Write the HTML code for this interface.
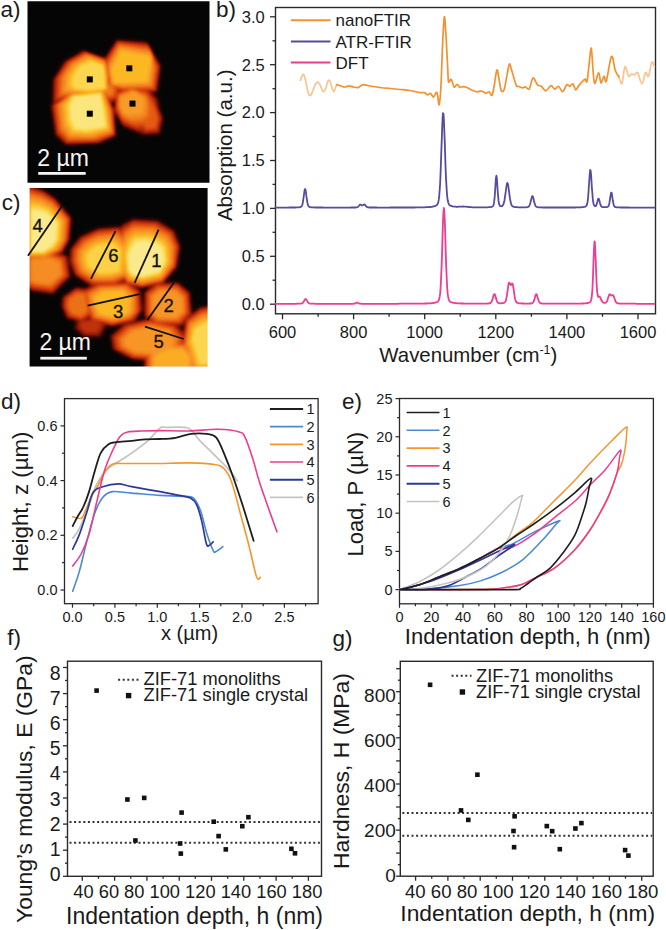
<!DOCTYPE html><html><head><meta charset="utf-8"><style>html,body{margin:0;padding:0;background:#fff;width:666px;height:930px;overflow:hidden;position:relative}</style></head><body><svg width="666" height="930" viewBox="0 0 666 930" style="position:absolute;left:0;top:0">
<defs>
<filter id="b3" x="-30%" y="-30%" width="160%" height="160%"><feGaussianBlur stdDeviation="2.2"/></filter>
<filter id="b2" x="-30%" y="-30%" width="160%" height="160%"><feGaussianBlur stdDeviation="2.8"/></filter>
</defs>
<g font-family='"Liberation Sans", sans-serif' fill="#1a1a1a">
<filter id="afm" x="0" y="0" width="100%" height="100%" color-interpolation-filters="sRGB"><feGaussianBlur stdDeviation="1.4"/><feComponentTransfer><feFuncR type="table" tableValues="0.020 0.124 0.227 0.384 0.541 0.660 0.754 0.847 0.878 0.910 0.941 0.954 0.967 0.976 0.983 0.988 0.988 0.988 0.987 0.986 0.984"/><feFuncG type="table" tableValues="0.020 0.025 0.031 0.064 0.097 0.144 0.202 0.259 0.332 0.405 0.478 0.524 0.570 0.622 0.677 0.732 0.784 0.837 0.874 0.908 0.941"/><feFuncB type="table" tableValues="0.020 0.018 0.016 0.019 0.022 0.033 0.048 0.063 0.073 0.084 0.094 0.124 0.153 0.155 0.139 0.141 0.220 0.298 0.403 0.515 0.627"/></feComponentTransfer></filter>
<clipPath id="ca"><rect x="27.5" y="1.3" width="182" height="181.5"/></clipPath>
<g clip-path="url(#ca)"><g filter="url(#afm)"><rect x="22.5" y="-3.7" width="192" height="191.5" fill="#000"/>
<g style="mix-blend-mode:lighten">
<polygon points="51.0,80.1 63.4,60.6 82.9,49.2 106.0,57.1 109.9,71.5 109.8,92.9 88.8,96.8 68.9,98.7 50.5,105.3" fill="#0a0a0a" />
<polygon points="52.7,79.6 64.6,61.0 83.5,50.0 105.8,57.7 109.6,71.8 109.5,92.6 88.7,96.4 69.4,98.0 52.1,103.6" fill="#272727" />
<polygon points="54.4,79.2 65.8,61.4 84.2,50.9 105.7,58.4 109.2,72.1 109.2,92.2 88.7,95.9 69.8,97.2 53.7,101.9" fill="#3b3b3b" />
<polygon points="56.0,78.8 67.1,61.8 84.8,51.7 105.5,59.0 108.8,72.5 108.9,91.9 88.7,95.4 70.2,96.5 55.3,100.3" fill="#4c4c4c" />
<polygon points="57.7,78.4 68.3,62.3 85.4,52.6 105.3,59.7 108.4,72.8 108.5,91.6 88.6,95.0 70.6,95.8 56.9,98.6" fill="#5c5c5c" />
<polygon points="59.4,78.0 69.5,62.7 86.0,53.4 105.2,60.3 108.0,73.1 108.2,91.3 88.6,94.5 71.0,95.0 58.5,96.9" fill="#6b6b6b" />
<polygon points="61.1,77.5 70.7,63.1 86.6,54.3 105.0,61.0 107.7,73.4 107.9,91.0 88.5,94.0 71.4,94.3 60.1,95.2" fill="#797979" />
<polygon points="62.8,77.1 71.9,63.6 87.3,55.1 104.8,61.6 107.3,73.8 107.6,90.6 88.5,93.6 71.8,93.5 61.7,93.5" fill="#878787" />
<polygon points="64.4,76.7 73.1,64.0 87.9,56.0 104.7,62.3 106.9,74.1 107.3,90.3 88.5,93.1 72.2,92.8 63.2,91.8" fill="#949494" />
<polygon points="66.1,76.3 74.3,64.4 88.5,56.8 104.5,62.9 106.5,74.4 107.0,90.0 88.4,92.6 72.7,92.1 64.8,90.2" fill="#a0a0a0" />
<polygon points="67.8,75.8 75.6,64.8 89.1,57.7 104.4,63.6 106.2,74.7 106.7,89.7 88.4,92.2 73.1,91.3 66.4,88.5" fill="#adadad" />
<polygon points="69.5,75.4 76.8,65.3 89.8,58.5 104.2,64.2 105.8,75.1 106.3,89.4 88.3,91.7 73.5,90.6 68.0,86.8" fill="#b9b9b9" />
<polygon points="71.2,75.0 78.0,65.7 90.4,59.3 104.0,64.9 105.4,75.4 106.0,89.0 88.3,91.2 73.9,89.9 69.6,85.1" fill="#c4c4c4" />
<polygon points="72.9,74.6 79.2,66.1 91.0,60.2 103.9,65.5 105.0,75.7 105.7,88.7 88.3,90.8 74.3,89.1 71.2,83.4" fill="#d0d0d0" />
<polygon points="74.5,74.1 80.4,66.5 91.6,61.0 103.7,66.2 104.6,76.0 105.4,88.4 88.2,90.3 74.7,88.4 72.8,81.7" fill="#dbdbdb" />
</g>
<g style="mix-blend-mode:lighten">
<polygon points="104.5,55.8 116.2,38.6 146.9,40.5 162.3,65.4 158.5,93.4 121.3,93.9 106.5,87.2" fill="#0a0a0a" />
<polygon points="104.9,56.9 116.6,39.5 147.3,41.7 161.3,65.8 157.6,92.5 121.6,93.1 107.1,86.9" fill="#232323" />
<polygon points="105.4,57.9 116.9,40.3 147.6,42.9 160.4,66.1 156.8,91.6 121.9,92.2 107.7,86.6" fill="#343434" />
<polygon points="105.9,59.0 117.3,41.2 148.0,44.1 159.5,66.4 156.0,90.8 122.2,91.4 108.2,86.3" fill="#424242" />
<polygon points="106.3,60.1 117.6,42.0 148.4,45.3 158.5,66.8 155.2,89.9 122.5,90.6 108.8,86.0" fill="#505050" />
<polygon points="106.8,61.2 118.0,42.8 148.7,46.5 157.6,67.1 154.3,89.0 122.7,89.8 109.3,85.7" fill="#5d5d5d" />
<polygon points="107.3,62.3 118.4,43.7 149.1,47.7 156.6,67.4 153.5,88.2 123.0,89.0 109.9,85.4" fill="#696969" />
<polygon points="107.7,63.4 118.7,44.5 149.5,48.9 155.7,67.7 152.7,87.3 123.3,88.1 110.5,85.1" fill="#747474" />
<polygon points="108.2,64.5 119.1,45.4 149.8,50.1 154.7,68.1 151.8,86.4 123.6,87.3 111.0,84.8" fill="#808080" />
<polygon points="108.7,65.6 119.4,46.2 150.2,51.3 153.8,68.4 151.0,85.6 123.9,86.5 111.6,84.5" fill="#8a8a8a" />
<polygon points="109.1,66.6 119.8,47.1 150.6,52.5 152.8,68.7 150.2,84.7 124.2,85.7 112.1,84.2" fill="#959595" />
<polygon points="109.6,67.7 120.2,47.9 150.9,53.7 151.9,69.1 149.4,83.8 124.5,84.9 112.7,83.9" fill="#9f9f9f" />
<polygon points="110.0,68.8 120.5,48.8 151.3,54.9 151.0,69.4 148.5,83.0 124.7,84.0 113.3,83.6" fill="#a9a9a9" />
<polygon points="110.5,69.9 120.9,49.6 151.7,56.1 150.0,69.7 147.7,82.1 125.0,83.2 113.8,83.3" fill="#b3b3b3" />
<polygon points="111.0,71.0 121.2,50.5 152.0,57.3 149.1,70.0 146.9,81.2 125.3,82.4 114.4,83.0" fill="#bdbdbd" />
</g>
<g style="mix-blend-mode:lighten">
<polygon points="97.8,77.6 112.7,74.9 123.1,87.4 120.1,102.4 105.2,105.1 95.9,92.6" fill="#0a0a0a" />
<polygon points="98.4,78.3 112.5,75.7 122.4,87.6 119.6,101.8 105.3,104.4 96.5,92.5" fill="#1a1a1a" />
<polygon points="99.0,79.0 112.3,76.5 121.7,87.7 119.0,101.2 105.5,103.6 97.2,92.4" fill="#252525" />
<polygon points="99.5,79.6 112.1,77.3 121.0,87.8 118.4,100.6 105.7,102.9 97.8,92.2" fill="#2f2f2f" />
<polygon points="100.1,80.3 111.9,78.1 120.2,87.9 117.8,100.0 105.8,102.2 98.5,92.1" fill="#383838" />
<polygon points="100.7,80.9 111.7,78.9 119.5,88.1 117.3,99.4 106.0,101.4 99.1,92.0" fill="#404040" />
<polygon points="101.2,81.6 111.5,79.7 118.8,88.2 116.7,98.8 106.1,100.7 99.8,91.9" fill="#484848" />
<polygon points="101.8,82.3 111.3,80.5 118.1,88.3 116.1,98.2 106.3,100.0 100.4,91.7" fill="#505050" />
<polygon points="102.4,82.9 111.0,81.3 117.3,88.5 115.6,97.6 106.4,99.2 101.1,91.6" fill="#575757" />
<polygon points="102.9,83.6 110.8,82.1 116.6,88.6 115.0,97.0 106.6,98.5 101.7,91.5" fill="#5e5e5e" />
<polygon points="103.5,84.2 110.6,82.9 115.9,88.7 114.4,96.4 106.7,97.8 102.4,91.4" fill="#656565" />
<polygon points="104.1,84.9 110.4,83.7 115.1,88.9 113.9,95.9 106.9,97.1 103.0,91.2" fill="#6c6c6c" />
<polygon points="104.6,85.5 110.2,84.5 114.4,89.0 113.3,95.3 107.1,96.3 103.7,91.1" fill="#737373" />
<polygon points="105.2,86.2 110.0,85.3 113.7,89.1 112.7,94.7 107.2,95.6 104.3,91.0" fill="#797979" />
<polygon points="105.8,86.9 109.8,86.1 113.0,89.3 112.2,94.1 107.4,94.9 105.0,90.9" fill="#808080" />
</g>
<g style="mix-blend-mode:lighten">
<polygon points="139.3,98.7 155.4,95.6 164.5,118.1 160.8,135.3 142.5,136.4 135.5,118.1" fill="#0a0a0a" />
<polygon points="139.7,99.2 155.2,96.2 164.0,118.1 160.4,134.7 142.7,135.8 136.0,118.1" fill="#181818" />
<polygon points="140.2,99.7 155.0,96.9 163.4,118.1 160.0,134.1 143.0,135.2 136.6,118.1" fill="#212121" />
<polygon points="140.7,100.3 154.9,97.6 162.9,118.1 159.5,133.5 143.2,134.6 137.1,118.1" fill="#292929" />
<polygon points="141.2,100.8 154.7,98.3 162.4,118.1 159.1,132.9 143.5,134.0 137.6,118.1" fill="#303030" />
<polygon points="141.7,101.3 154.5,98.9 161.8,118.1 158.7,132.3 143.7,133.4 138.2,118.1" fill="#373737" />
<polygon points="142.1,101.8 154.4,99.6 161.3,118.1 158.3,131.7 144.0,132.8 138.7,118.1" fill="#3e3e3e" />
<polygon points="142.6,102.3 154.2,100.3 160.7,118.1 157.9,131.1 144.2,132.2 139.3,118.1" fill="#444444" />
<polygon points="143.1,102.9 154.0,101.0 160.2,118.0 157.5,130.5 144.5,131.6 139.8,118.1" fill="#4a4a4a" />
<polygon points="143.6,103.4 153.9,101.6 159.7,118.0 157.1,130.0 144.7,131.0 140.3,118.0" fill="#505050" />
<polygon points="144.1,103.9 153.7,102.3 159.1,118.0 156.7,129.4 145.0,130.4 140.9,118.0" fill="#555555" />
<polygon points="144.6,104.4 153.5,103.0 158.6,118.0 156.2,128.8 145.2,129.8 141.4,118.0" fill="#5b5b5b" />
<polygon points="145.0,105.0 153.3,103.7 158.1,118.0 155.8,128.2 145.5,129.2 141.9,118.0" fill="#616161" />
<polygon points="145.5,105.5 153.2,104.3 157.5,118.0 155.4,127.6 145.7,128.6 142.5,118.0" fill="#666666" />
<polygon points="146.0,106.0 153.0,105.0 157.0,118.0 155.0,127.0 146.0,128.0 143.0,118.0" fill="#6b6b6b" />
</g>
<g style="mix-blend-mode:lighten">
<polygon points="114.4,91.8 127.0,85.5 147.7,86.1 159.7,98.0 162.2,118.6 159.8,133.8 142.6,136.1 123.0,128.4 113.3,112.7" fill="#0a0a0a" />
<polygon points="114.9,92.2 127.6,85.9 147.5,87.1 158.6,98.6 160.7,118.2 158.0,132.4 141.3,134.5 122.9,127.1 113.8,112.0" fill="#1f1f1f" />
<polygon points="115.4,92.5 128.2,86.4 147.3,88.1 157.4,99.3 159.3,117.9 156.3,130.9 140.0,132.9 122.8,125.7 114.4,111.3" fill="#2e2e2e" />
<polygon points="115.9,92.9 128.7,86.8 147.2,89.1 156.2,99.9 157.8,117.6 154.5,129.5 138.7,131.3 122.7,124.4 114.9,110.7" fill="#3a3a3a" />
<polygon points="116.4,93.2 129.3,87.2 147.0,90.1 155.1,100.5 156.4,117.2 152.7,128.1 137.5,129.7 122.6,123.1 115.4,110.0" fill="#464646" />
<polygon points="116.9,93.6 129.9,87.7 146.8,91.1 153.9,101.2 154.9,116.9 150.9,126.7 136.2,128.1 122.5,121.8 115.9,109.3" fill="#515151" />
<polygon points="117.3,93.9 130.4,88.1 146.6,92.1 152.7,101.8 153.4,116.6 149.1,125.3 134.9,126.6 122.4,120.4 116.4,108.6" fill="#5b5b5b" />
<polygon points="117.8,94.3 131.0,88.6 146.4,93.2 151.6,102.5 152.0,116.2 147.3,123.8 133.6,125.0 122.3,119.1 117.0,107.9" fill="#656565" />
<polygon points="118.3,94.6 131.6,89.0 146.3,94.2 150.4,103.1 150.5,115.9 145.6,122.4 132.4,123.4 122.2,117.8 117.5,107.2" fill="#6f6f6f" />
<polygon points="118.8,95.0 132.1,89.4 146.1,95.2 149.2,103.7 149.1,115.5 143.8,121.0 131.1,121.8 122.1,116.4 118.0,106.5" fill="#787878" />
<polygon points="119.3,95.3 132.7,89.9 145.9,96.2 148.1,104.4 147.6,115.2 142.0,119.6 129.8,120.2 122.0,115.1 118.5,105.9" fill="#818181" />
<polygon points="119.8,95.7 133.3,90.3 145.7,97.2 146.9,105.0 146.2,114.9 140.2,118.1 128.5,118.6 121.9,113.8 119.0,105.2" fill="#8a8a8a" />
<polygon points="120.3,96.1 133.8,90.8 145.6,98.2 145.7,105.7 144.7,114.5 138.4,116.7 127.2,117.0 121.8,112.4 119.6,104.5" fill="#929292" />
<polygon points="120.8,96.4 134.4,91.2 145.4,99.2 144.6,106.3 143.2,114.2 136.6,115.3 126.0,115.4 121.7,111.1 120.1,103.8" fill="#9b9b9b" />
<polygon points="121.3,96.8 134.9,91.6 145.2,100.2 143.4,106.9 141.8,113.9 134.9,113.9 124.7,113.9 121.6,109.8 120.6,103.1" fill="#a3a3a3" />
</g>
<g style="mix-blend-mode:lighten">
<polygon points="49.1,105.2 71.1,90.9 105.6,87.3 115.4,110.1 117.1,136.8 100.0,144.8 65.4,146.5 54.1,136.9" fill="#0a0a0a" />
<polygon points="50.7,105.2 71.3,91.3 105.2,87.8 114.5,110.1 116.2,136.1 98.9,143.7 66.1,145.1 55.3,135.5" fill="#2a2a2a" />
<polygon points="52.3,105.1 71.4,91.8 104.8,88.2 113.6,110.1 115.4,135.3 97.8,142.6 66.7,143.8 56.5,134.1" fill="#404040" />
<polygon points="53.8,105.1 71.5,92.2 104.4,88.7 112.8,110.1 114.5,134.6 96.7,141.6 67.4,142.4 57.7,132.8" fill="#525252" />
<polygon points="55.4,105.0 71.6,92.7 104.0,89.1 111.9,110.1 113.7,133.8 95.6,140.5 68.0,141.0 58.9,131.4" fill="#646464" />
<polygon points="56.9,105.0 71.7,93.1 103.6,89.6 111.0,110.1 112.8,133.0 94.5,139.4 68.7,139.6 60.1,130.0" fill="#747474" />
<polygon points="58.5,104.9 71.8,93.6 103.2,90.1 110.1,110.1 112.0,132.3 93.4,138.3 69.3,138.3 61.3,128.6" fill="#848484" />
<polygon points="60.1,104.9 71.9,94.0 102.9,90.5 109.2,110.1 111.2,131.5 92.3,137.2 70.0,136.9 62.5,127.3" fill="#939393" />
<polygon points="61.6,104.8 72.0,94.5 102.5,91.0 108.4,110.1 110.3,130.8 91.2,136.1 70.6,135.5 63.7,125.9" fill="#a1a1a1" />
<polygon points="63.2,104.7 72.1,94.9 102.1,91.4 107.5,110.1 109.5,130.0 90.1,135.1 71.3,134.1 64.9,124.5" fill="#afafaf" />
<polygon points="64.7,104.7 72.2,95.4 101.7,91.9 106.6,110.1 108.6,129.3 89.0,134.0 72.0,132.8 66.1,123.2" fill="#bdbdbd" />
<polygon points="66.3,104.6 72.3,95.8 101.3,92.4 105.7,110.2 107.8,128.5 87.9,132.9 72.6,131.4 67.3,121.8" fill="#cacaca" />
<polygon points="67.8,104.6 72.4,96.3 100.9,92.8 104.8,110.2 106.9,127.7 86.8,131.8 73.3,130.0 68.5,120.4" fill="#d7d7d7" />
<polygon points="69.4,104.5 72.6,96.7 100.5,93.3 103.9,110.2 106.1,127.0 85.7,130.7 73.9,128.6 69.7,119.0" fill="#e3e3e3" />
<polygon points="71.0,104.5 72.7,97.1 100.1,93.7 103.1,110.2 105.2,126.2 84.6,129.6 74.6,127.3 71.0,117.7" fill="#f0f0f0" />
</g>
</g></g>
<rect x="86.8" y="76.4" width="6" height="6" fill="#000"/>
<rect x="126.3" y="65.3" width="6" height="6" fill="#000"/>
<rect x="86.8" y="110.7" width="6" height="6" fill="#000"/>
<rect x="129.5" y="100.6" width="6" height="6" fill="#000"/>
<rect x="38.2" y="172" width="47.5" height="2.8" fill="#f4f4f4"/>
<text x="37.3" y="166.3" font-size="23" text-anchor="start" fill="#f4f4f4">2 µm</text>
<clipPath id="cc"><rect x="29.6" y="188" width="178" height="178.5"/></clipPath>
<g clip-path="url(#cc)"><g filter="url(#afm)"><rect x="24.6" y="183" width="188" height="188.5" fill="#000"/>
<g style="mix-blend-mode:lighten">
<polygon points="61.3,295.9 76.0,286.0 89.2,287.4 93.7,317.1 82.7,323.9 65.9,319.7 60.0,306.1" fill="#0a0a0a" />
<polygon points="61.9,296.2 76.1,286.6 88.9,288.0 93.2,316.7 82.5,323.3 66.3,319.1 60.6,306.1" fill="#1a1a1a" />
<polygon points="62.5,296.4 76.2,287.2 88.5,288.5 92.7,316.3 82.4,322.7 66.7,318.6 61.3,306.1" fill="#242424" />
<polygon points="63.1,296.7 76.2,287.8 88.1,289.1 92.2,315.9 82.2,322.1 67.1,318.1 61.9,306.1" fill="#2e2e2e" />
<polygon points="63.7,297.0 76.3,288.3 87.8,289.6 91.7,315.4 82.1,321.6 67.5,317.5 62.5,306.1" fill="#363636" />
<polygon points="64.3,297.2 76.4,288.9 87.4,290.2 91.2,315.0 81.9,321.0 67.9,317.0 63.2,306.0" fill="#3e3e3e" />
<polygon points="65.0,297.5 76.4,289.5 87.1,290.7 90.8,314.6 81.8,320.4 68.3,316.5 63.8,306.0" fill="#464646" />
<polygon points="65.6,297.8 76.5,290.1 86.7,291.2 90.3,314.2 81.6,319.8 68.7,315.9 64.5,306.0" fill="#4d4d4d" />
<polygon points="66.2,298.0 76.6,290.7 86.3,291.8 89.8,313.8 81.5,319.3 69.1,315.4 65.1,306.0" fill="#545454" />
<polygon points="66.8,298.3 76.7,291.3 86.0,292.3 89.3,313.4 81.3,318.7 69.6,314.9 65.7,306.0" fill="#5b5b5b" />
<polygon points="67.4,298.5 76.7,291.8 85.6,292.9 88.8,312.9 81.2,318.1 70.0,314.3 66.4,306.0" fill="#616161" />
<polygon points="68.0,298.8 76.8,292.4 85.3,293.4 88.3,312.5 81.0,317.5 70.4,313.8 67.0,305.9" fill="#686868" />
<polygon points="68.6,299.1 76.9,293.0 84.9,294.0 87.9,312.1 80.9,316.9 70.8,313.3 67.6,305.9" fill="#6e6e6e" />
<polygon points="69.2,299.3 76.9,293.6 84.6,294.5 87.4,311.7 80.7,316.4 71.2,312.7 68.3,305.9" fill="#747474" />
<polygon points="69.8,299.6 77.0,294.2 84.2,295.1 86.9,311.3 80.6,315.8 71.6,312.2 68.9,305.9" fill="#7a7a7a" />
</g>
<g style="mix-blend-mode:lighten">
<polygon points="74.2,319.1 97.0,314.3 109.0,324.7 101.5,338.4 83.0,338.7 73.0,329.2" fill="#0a0a0a" />
<polygon points="74.8,319.3 96.8,314.7 108.4,324.8 101.1,337.9 83.2,338.2 73.6,329.1" fill="#131313" />
<polygon points="75.3,319.5 96.6,315.2 107.8,324.8 100.7,337.4 83.5,337.7 74.2,328.9" fill="#1a1a1a" />
<polygon points="75.9,319.8 96.4,315.6 107.2,324.8 100.4,336.9 83.7,337.2 74.7,328.7" fill="#1f1f1f" />
<polygon points="76.4,320.0 96.3,316.1 106.6,324.8 100.0,336.4 84.0,336.6 75.3,328.6" fill="#242424" />
<polygon points="77.0,320.3 96.1,316.5 106.1,324.9 99.6,335.9 84.2,336.1 75.9,328.4" fill="#292929" />
<polygon points="77.5,320.5 95.9,317.0 105.5,324.9 99.3,335.4 84.5,335.6 76.4,328.2" fill="#2d2d2d" />
<polygon points="78.1,320.7 95.7,317.4 104.9,324.9 98.9,334.9 84.7,335.1 77.0,328.1" fill="#323232" />
<polygon points="78.6,321.0 95.6,317.9 104.3,325.0 98.5,334.4 84.9,334.6 77.6,327.9" fill="#363636" />
<polygon points="79.2,321.2 95.4,318.4 103.7,325.0 98.2,333.9 85.2,334.0 78.2,327.8" fill="#3a3a3a" />
<polygon points="79.7,321.5 95.2,318.8 103.1,325.0 97.8,333.4 85.4,333.5 78.7,327.6" fill="#3e3e3e" />
<polygon points="80.3,321.7 95.0,319.3 102.6,325.0 97.4,332.9 85.7,333.0 79.3,327.4" fill="#424242" />
<polygon points="80.8,322.0 94.9,319.7 102.0,325.1 97.1,332.4 85.9,332.5 79.9,327.3" fill="#454545" />
<polygon points="81.4,322.2 94.7,320.2 101.4,325.1 96.7,331.9 86.2,332.0 80.4,327.1" fill="#494949" />
<polygon points="81.9,322.4 94.5,320.6 100.8,325.1 96.3,331.4 86.4,331.4 81.0,326.9" fill="#4c4c4c" />
</g>
<g style="mix-blend-mode:lighten">
<polygon points="25.7,252.1 50.3,247.0 68.8,255.1 72.2,276.7 53.5,295.7 31.6,292.4 25.5,289.1" fill="#0a0a0a" />
<polygon points="26.1,252.7 50.1,247.8 68.1,255.6 71.3,276.6 53.2,294.8 31.9,291.7 25.9,288.4" fill="#1d1d1d" />
<polygon points="26.5,253.3 49.9,248.6 67.4,256.1 70.4,276.4 53.0,293.9 32.2,290.9 26.3,287.8" fill="#2a2a2a" />
<polygon points="26.9,253.9 49.7,249.4 66.6,256.7 69.6,276.2 52.7,293.0 32.6,290.1 26.7,287.1" fill="#363636" />
<polygon points="27.3,254.5 49.5,250.2 65.9,257.2 68.7,276.0 52.4,292.1 32.9,289.3 27.2,286.4" fill="#404040" />
<polygon points="27.7,255.1 49.3,251.1 65.2,257.7 67.9,275.9 52.2,291.2 33.2,288.5 27.6,285.8" fill="#4a4a4a" />
<polygon points="28.1,255.8 49.1,251.9 64.4,258.2 67.0,275.7 51.9,290.3 33.5,287.7 28.0,285.1" fill="#535353" />
<polygon points="28.6,256.4 48.9,252.7 63.7,258.7 66.2,275.5 51.6,289.4 33.9,287.0 28.4,284.5" fill="#5c5c5c" />
<polygon points="29.0,257.0 48.7,253.5 63.0,259.2 65.3,275.3 51.4,288.5 34.2,286.2 28.9,283.8" fill="#656565" />
<polygon points="29.4,257.6 48.5,254.3 62.2,259.7 64.5,275.2 51.1,287.6 34.5,285.4 29.3,283.2" fill="#6d6d6d" />
<polygon points="29.8,258.2 48.2,255.1 61.5,260.2 63.6,275.0 50.9,286.7 34.9,284.6 29.7,282.5" fill="#757575" />
<polygon points="30.2,258.8 48.0,255.9 60.8,260.8 62.8,274.8 50.6,285.8 35.2,283.8 30.1,281.9" fill="#7d7d7d" />
<polygon points="30.6,259.5 47.8,256.7 60.1,261.3 61.9,274.6 50.3,284.9 35.5,283.1 30.6,281.2" fill="#858585" />
<polygon points="31.0,260.1 47.6,257.5 59.3,261.8 61.1,274.5 50.1,284.0 35.9,282.3 31.0,280.5" fill="#8c8c8c" />
<polygon points="31.4,260.7 47.4,258.3 58.6,262.3 60.2,274.3 49.8,283.1 36.2,281.5 31.4,279.9" fill="#949494" />
</g>
<g style="mix-blend-mode:lighten">
<polygon points="26.4,182.2 43.6,188.3 55.6,196.4 73.0,217.4 71.1,239.2 64.6,252.3 45.2,260.8 26.2,260.3" fill="#0a0a0a" />
<polygon points="26.8,184.3 43.3,189.9 55.0,197.6 71.8,217.8 70.0,239.3 63.6,251.9 45.0,260.1 26.6,259.6" fill="#2b2b2b" />
<polygon points="27.1,186.4 42.9,191.5 54.4,198.9 70.5,218.3 68.8,239.4 62.5,251.5 44.9,259.4 26.9,259.0" fill="#414141" />
<polygon points="27.5,188.4 42.6,193.2 53.9,200.2 69.3,218.7 67.7,239.5 61.5,251.0 44.7,258.7 27.3,258.3" fill="#555555" />
<polygon points="27.8,190.5 42.3,194.8 53.3,201.5 68.1,219.1 66.5,239.6 60.5,250.6 44.6,258.1 27.6,257.7" fill="#676767" />
<polygon points="28.1,192.6 41.9,196.5 52.7,202.8 66.9,219.5 65.4,239.7 59.5,250.2 44.4,257.4 28.0,257.0" fill="#787878" />
<polygon points="28.5,194.7 41.6,198.1 52.1,204.1 65.7,219.9 64.2,239.8 58.5,249.7 44.3,256.7 28.4,256.4" fill="#888888" />
<polygon points="28.8,196.7 41.2,199.8 51.5,205.4 64.5,220.3 63.1,239.9 57.5,249.3 44.2,256.0 28.7,255.8" fill="#979797" />
<polygon points="29.2,198.8 40.9,201.4 51.0,206.7 63.3,220.7 61.9,239.9 56.5,248.9 44.0,255.3 29.1,255.1" fill="#a6a6a6" />
<polygon points="29.5,200.9 40.5,203.1 50.4,208.0 62.1,221.1 60.8,240.0 55.5,248.4 43.9,254.7 29.4,254.5" fill="#b4b4b4" />
<polygon points="29.9,203.0 40.2,204.7 49.8,209.3 60.9,221.5 59.6,240.1 54.5,248.0 43.7,254.0 29.8,253.8" fill="#c2c2c2" />
<polygon points="30.2,205.0 39.9,206.3 49.2,210.6 59.7,221.9 58.5,240.2 53.5,247.5 43.6,253.3 30.2,253.2" fill="#d0d0d0" />
<polygon points="30.6,207.1 39.5,208.0 48.6,211.9 58.5,222.3 57.3,240.3 52.5,247.1 43.4,252.6 30.5,252.6" fill="#dddddd" />
<polygon points="30.9,209.2 39.2,209.6 48.1,213.2 57.3,222.7 56.1,240.4 51.4,246.7 43.3,252.0 30.9,251.9" fill="#ebebeb" />
<polygon points="31.2,211.3 38.8,211.3 47.5,214.5 56.1,223.1 55.0,240.5 50.4,246.2 43.2,251.3 31.2,251.3" fill="#f7f7f7" />
</g>
<g style="mix-blend-mode:lighten">
<polygon points="142.4,351.2 164.3,339.8 188.4,340.4 200.6,353.6 200.1,371.7 142.8,371.5" fill="#0a0a0a" />
<polygon points="143.3,351.6 164.6,340.5 187.9,341.0 199.8,353.8 199.3,371.4 143.6,371.2" fill="#212121" />
<polygon points="144.2,351.9 164.9,341.1 187.5,341.6 198.9,354.0 198.5,371.1 144.5,371.0" fill="#313131" />
<polygon points="145.0,352.3 165.1,341.8 187.0,342.3 198.1,354.2 197.7,370.8 145.3,370.7" fill="#3f3f3f" />
<polygon points="145.9,352.7 165.4,342.5 186.5,342.9 197.3,354.4 196.9,370.5 146.2,370.4" fill="#4c4c4c" />
<polygon points="146.8,353.0 165.7,343.1 186.0,343.5 196.4,354.6 196.1,370.2 147.0,370.1" fill="#585858" />
<polygon points="147.6,353.4 166.0,343.8 185.6,344.1 195.6,354.8 195.3,369.9 147.8,369.8" fill="#636363" />
<polygon points="148.5,353.8 166.2,344.5 185.1,344.8 194.8,355.0 194.5,369.6 148.7,369.5" fill="#6e6e6e" />
<polygon points="149.4,354.1 166.5,345.1 184.6,345.4 194.0,355.2 193.8,369.3 149.5,369.2" fill="#797979" />
<polygon points="150.2,354.5 166.8,345.8 184.1,346.0 193.1,355.4 193.0,369.0 150.4,369.0" fill="#838383" />
<polygon points="151.1,354.9 167.1,346.5 183.7,346.6 192.3,355.6 192.2,368.7 151.2,368.7" fill="#8d8d8d" />
<polygon points="152.0,355.2 167.3,347.1 183.2,347.3 191.5,355.8 191.4,368.4 152.0,368.4" fill="#979797" />
<polygon points="152.8,355.6 167.6,347.8 182.7,347.9 190.6,355.9 190.6,368.1 152.9,368.1" fill="#a0a0a0" />
<polygon points="153.7,356.0 167.9,348.5 182.2,348.5 189.8,356.1 189.8,367.8 153.7,367.8" fill="#a9a9a9" />
<polygon points="154.6,356.3 168.2,349.1 181.8,349.1 189.0,356.3 189.0,367.5 154.6,367.5" fill="#b2b2b2" />
</g>
<g style="mix-blend-mode:lighten">
<polygon points="184.5,317.2 200.0,305.6 213.4,303.1 213.4,372.9 185.2,373.1 179.1,351.3" fill="#0a0a0a" />
<polygon points="185.2,318.1 200.2,306.9 213.2,304.5 213.1,372.3 186.2,372.4 180.1,350.4" fill="#272727" />
<polygon points="185.9,319.0 200.5,308.3 212.9,305.9 212.9,371.6 187.3,371.8 181.0,349.5" fill="#3b3b3b" />
<polygon points="186.7,319.9 200.8,309.6 212.7,307.3 212.7,371.0 188.4,371.1 182.0,348.6" fill="#4c4c4c" />
<polygon points="187.4,320.8 201.0,310.9 212.4,308.7 212.4,370.4 189.5,370.5 182.9,347.7" fill="#5c5c5c" />
<polygon points="188.1,321.6 201.3,312.2 212.2,310.1 212.2,369.7 190.6,369.9 183.9,346.7" fill="#6b6b6b" />
<polygon points="188.9,322.5 201.5,313.5 212.0,311.4 211.9,369.1 191.7,369.2 184.8,345.8" fill="#797979" />
<polygon points="189.6,323.4 201.8,314.9 211.7,312.8 211.7,368.5 192.8,368.6 185.7,344.9" fill="#878787" />
<polygon points="190.3,324.3 202.1,316.2 211.5,314.2 211.4,367.9 193.8,367.9 186.7,344.0" fill="#949494" />
<polygon points="191.0,325.1 202.3,317.5 211.2,315.6 211.2,367.2 194.9,367.3 187.6,343.1" fill="#a0a0a0" />
<polygon points="191.8,326.0 202.6,318.8 211.0,317.0 210.9,366.6 196.0,366.7 188.6,342.2" fill="#adadad" />
<polygon points="192.5,326.9 202.9,320.1 210.7,318.3 210.7,366.0 197.1,366.0 189.5,341.2" fill="#b9b9b9" />
<polygon points="193.2,327.8 203.1,321.5 210.5,319.7 210.5,365.3 198.2,365.4 190.5,340.3" fill="#c4c4c4" />
<polygon points="194.0,328.7 203.4,322.8 210.2,321.1 210.2,364.7 199.3,364.7 191.4,339.4" fill="#d0d0d0" />
<polygon points="194.7,329.5 203.6,324.1 210.0,322.5 210.0,364.1 200.4,364.1 192.4,338.5" fill="#dbdbdb" />
</g>
<g style="mix-blend-mode:lighten">
<polygon points="108.6,335.4 122.6,322.8 150.2,316.8 177.6,322.8 189.3,335.4 186.9,355.0 167.9,363.1 132.2,360.7 111.0,350.1" fill="#0a0a0a" />
<polygon points="109.8,335.8 123.4,323.4 150.2,317.6 176.9,323.4 188.1,335.8 185.6,354.6 167.1,362.4 132.5,360.1 112.1,349.8" fill="#1f1f1f" />
<polygon points="110.9,336.1 124.2,324.0 150.1,318.4 176.2,324.1 187.0,336.1 184.4,354.2 166.3,361.7 132.7,359.4 113.2,349.5" fill="#2d2d2d" />
<polygon points="112.0,336.5 125.0,324.6 150.1,319.2 175.5,324.7 185.8,336.5 183.2,353.8 165.6,361.0 132.9,358.7 114.3,349.2" fill="#393939" />
<polygon points="113.2,336.9 125.7,325.3 150.1,320.0 174.8,325.3 184.7,336.9 182.0,353.4 164.8,360.3 133.1,358.0 115.4,348.9" fill="#444444" />
<polygon points="114.3,337.2 126.5,325.9 150.0,320.8 174.1,325.9 183.5,337.2 180.7,353.0 164.0,359.5 133.4,357.4 116.5,348.6" fill="#4f4f4f" />
<polygon points="115.5,337.6 127.3,326.5 150.0,321.5 173.4,326.5 182.4,337.6 179.5,352.6 163.2,358.8 133.6,356.7 117.6,348.3" fill="#595959" />
<polygon points="116.6,338.0 128.1,327.1 150.0,322.3 172.7,327.2 181.3,338.0 178.3,352.3 162.5,358.1 133.8,356.0 118.7,348.0" fill="#626262" />
<polygon points="117.8,338.3 128.9,327.8 150.0,323.1 172.0,327.8 180.1,338.3 177.0,351.9 161.7,357.4 134.0,355.3 119.8,347.7" fill="#6b6b6b" />
<polygon points="118.9,338.7 129.7,328.4 149.9,323.9 171.3,328.4 179.0,338.7 175.8,351.5 160.9,356.7 134.3,354.7 120.9,347.4" fill="#747474" />
<polygon points="120.0,339.1 130.4,329.0 149.9,324.7 170.6,329.0 177.8,339.0 174.6,351.1 160.1,356.0 134.5,354.0 122.0,347.1" fill="#7d7d7d" />
<polygon points="121.2,339.4 131.2,329.7 149.9,325.5 169.9,329.7 176.7,339.4 173.3,350.7 159.3,355.3 134.7,353.3 123.1,346.8" fill="#868686" />
<polygon points="122.3,339.8 132.0,330.3 149.9,326.3 169.2,330.3 175.5,339.8 172.1,350.3 158.6,354.6 134.9,352.7 124.2,346.5" fill="#8e8e8e" />
<polygon points="123.5,340.1 132.8,330.9 149.8,327.1 168.5,330.9 174.4,340.1 170.9,349.9 157.8,353.9 135.2,352.0 125.3,346.2" fill="#969696" />
<polygon points="124.6,340.5 133.6,331.5 149.8,327.9 167.8,331.5 173.2,340.5 169.6,349.5 157.0,353.1 135.4,351.3 126.4,345.9" fill="#9e9e9e" />
</g>
<g style="mix-blend-mode:lighten">
<polygon points="142.7,291.6 155.3,281.2 178.4,281.1 191.2,291.5 193.6,314.5 183.4,327.2 155.3,327.3 142.8,317.0" fill="#0a0a0a" />
<polygon points="143.5,292.0 155.7,281.9 178.2,281.9 190.5,292.0 192.7,314.3 182.8,326.4 155.5,326.6 143.5,316.6" fill="#1f1f1f" />
<polygon points="144.3,292.4 156.0,282.7 178.0,282.6 189.8,292.6 191.8,314.1 182.2,325.7 155.8,325.8 144.3,316.2" fill="#2d2d2d" />
<polygon points="145.1,292.8 156.4,283.5 177.8,283.4 189.1,293.1 191.0,313.9 181.6,325.0 156.1,325.1 145.1,315.8" fill="#393939" />
<polygon points="145.8,293.2 156.8,284.2 177.5,284.1 188.4,293.6 190.1,313.7 181.0,324.2 156.3,324.3 145.9,315.4" fill="#444444" />
<polygon points="146.6,293.6 157.2,285.0 177.3,284.9 187.8,294.1 189.3,313.5 180.5,323.5 156.6,323.6 146.6,315.0" fill="#4f4f4f" />
<polygon points="147.4,294.0 157.6,285.7 177.1,285.6 187.1,294.7 188.4,313.2 179.9,322.8 156.9,322.9 147.4,314.6" fill="#595959" />
<polygon points="148.2,294.4 158.0,286.5 176.8,286.4 186.4,295.2 187.5,313.0 179.3,322.0 157.1,322.1 148.2,314.3" fill="#626262" />
<polygon points="148.9,294.8 158.4,287.2 176.6,287.2 185.7,295.7 186.7,312.8 178.7,321.3 157.4,321.4 148.9,313.9" fill="#6b6b6b" />
<polygon points="149.7,295.2 158.8,288.0 176.4,287.9 185.0,296.3 185.8,312.6 178.1,320.6 157.6,320.6 149.7,313.5" fill="#747474" />
<polygon points="150.5,295.6 159.2,288.7 176.1,288.7 184.3,296.8 185.0,312.4 177.5,319.8 157.9,319.9 150.5,313.1" fill="#7d7d7d" />
<polygon points="151.3,296.0 159.6,289.5 175.9,289.4 183.6,297.3 184.1,312.2 176.9,319.1 158.2,319.1 151.3,312.7" fill="#868686" />
<polygon points="152.0,296.4 160.0,290.2 175.7,290.2 182.9,297.9 183.2,312.0 176.4,318.4 158.4,318.4 152.0,312.3" fill="#8e8e8e" />
<polygon points="152.8,296.8 160.4,291.0 175.4,291.0 182.2,298.4 182.4,311.8 175.8,317.6 158.7,317.7 152.8,311.9" fill="#969696" />
<polygon points="153.6,297.2 160.8,291.7 175.2,291.7 181.5,298.9 181.5,311.6 175.2,316.9 158.9,316.9 153.6,311.6" fill="#9e9e9e" />
</g>
<g style="mix-blend-mode:lighten">
<polygon points="79.5,289.6 96.4,281.4 129.5,280.4 141.7,289.5 144.2,309.4 136.8,322.0 111.7,327.7 89.0,322.0 81.6,304.5" fill="#0a0a0a" />
<polygon points="80.7,290.1 96.9,282.2 129.1,281.1 140.9,290.1 143.1,309.7 135.7,321.5 111.9,326.9 89.8,321.4 82.6,304.5" fill="#232323" />
<polygon points="81.8,290.7 97.3,282.9 128.6,281.9 140.0,290.8 141.9,310.0 134.7,321.0 112.0,326.2 90.5,320.8 83.7,304.5" fill="#343434" />
<polygon points="83.0,291.2 97.8,283.6 128.1,282.6 139.2,291.5 140.8,310.3 133.6,320.5 112.2,325.4 91.2,320.2 84.7,304.6" fill="#424242" />
<polygon points="84.1,291.8 98.2,284.4 127.6,283.4 138.3,292.2 139.6,310.6 132.5,320.1 112.3,324.6 91.9,319.6 85.7,304.6" fill="#505050" />
<polygon points="85.3,292.3 98.7,285.1 127.1,284.1 137.5,292.9 138.5,310.8 131.4,319.6 112.4,323.9 92.7,318.9 86.8,304.6" fill="#5d5d5d" />
<polygon points="86.4,292.9 99.2,285.9 126.6,284.9 136.6,293.5 137.3,311.1 130.3,319.1 112.6,323.1 93.4,318.3 87.8,304.7" fill="#696969" />
<polygon points="87.6,293.4 99.6,286.6 126.1,285.6 135.8,294.2 136.2,311.4 129.2,318.7 112.7,322.3 94.1,317.7 88.8,304.7" fill="#747474" />
<polygon points="88.7,293.9 100.1,287.3 125.6,286.4 135.0,294.9 135.0,311.7 128.1,318.2 112.9,321.6 94.9,317.1 89.9,304.7" fill="#808080" />
<polygon points="89.9,294.5 100.5,288.1 125.1,287.1 134.1,295.6 133.9,312.0 127.1,317.7 113.0,320.8 95.6,316.5 90.9,304.8" fill="#8a8a8a" />
<polygon points="91.0,295.0 101.0,288.8 124.6,287.9 133.3,296.2 132.7,312.2 126.0,317.2 113.2,320.0 96.3,315.8 91.9,304.8" fill="#959595" />
<polygon points="92.2,295.6 101.5,289.5 124.2,288.6 132.4,296.9 131.6,312.5 124.9,316.8 113.3,319.3 97.1,315.2 92.9,304.8" fill="#9f9f9f" />
<polygon points="93.3,296.1 101.9,290.3 123.7,289.4 131.6,297.6 130.4,312.8 123.8,316.3 113.4,318.5 97.8,314.6 94.0,304.9" fill="#a9a9a9" />
<polygon points="94.5,296.6 102.4,291.0 123.2,290.1 130.7,298.3 129.3,313.1 122.7,315.8 113.6,317.7 98.5,314.0 95.0,304.9" fill="#b3b3b3" />
<polygon points="95.6,297.2 102.8,291.7 122.7,290.9 129.9,298.9 128.1,313.3 121.6,315.3 113.7,316.9 99.2,313.3 96.0,304.9" fill="#bdbdbd" />
</g>
<g style="mix-blend-mode:lighten">
<polygon points="68.6,248.2 79.2,235.1 98.7,226.3 120.2,224.9 133.0,235.5 135.4,259.1 132.9,278.2 116.1,287.1 90.1,287.2 73.0,276.2 67.5,261.3" fill="#0a0a0a" />
<polygon points="69.9,248.7 80.1,236.1 98.6,227.7 119.7,226.2 132.1,236.6 134.3,259.1 131.9,277.7 115.5,286.1 90.8,286.2 74.1,275.5 68.9,261.2" fill="#262626" />
<polygon points="71.3,249.1 81.1,237.1 98.4,229.2 119.1,227.5 131.1,237.7 133.2,259.2 130.9,277.2 115.0,285.0 91.5,285.2 75.3,274.9 70.3,261.0" fill="#3a3a3a" />
<polygon points="72.6,249.5 82.1,238.1 98.3,230.6 118.5,228.8 130.2,238.8 132.0,259.2 129.9,276.7 114.5,284.0 92.2,284.1 76.4,274.2 71.7,260.9" fill="#4a4a4a" />
<polygon points="73.9,249.9 83.0,239.2 98.1,232.0 118.0,230.1 129.3,239.9 130.9,259.3 128.8,276.2 113.9,282.9 92.9,283.1 77.5,273.5 73.1,260.8" fill="#5a5a5a" />
<polygon points="75.3,250.4 84.0,240.2 98.0,233.5 117.4,231.4 128.4,241.0 129.8,259.3 127.8,275.7 113.4,281.9 93.6,282.1 78.7,272.8 74.5,260.7" fill="#686868" />
<polygon points="76.6,250.8 84.9,241.2 97.8,234.9 116.9,232.7 127.5,242.1 128.7,259.4 126.8,275.3 112.9,280.9 94.2,281.1 79.8,272.1 75.9,260.6" fill="#767676" />
<polygon points="77.9,251.2 85.9,242.2 97.7,236.3 116.3,234.0 126.5,243.3 127.6,259.4 125.7,274.8 112.3,279.8 94.9,280.0 80.9,271.4 77.3,260.5" fill="#838383" />
<polygon points="79.3,251.6 86.8,243.2 97.5,237.7 115.7,235.3 125.6,244.4 126.5,259.5 124.7,274.3 111.8,278.8 95.6,279.0 82.1,270.8 78.6,260.4" fill="#909090" />
<polygon points="80.6,252.0 87.8,244.3 97.4,239.2 115.2,236.6 124.7,245.5 125.4,259.5 123.7,273.8 111.3,277.8 96.3,278.0 83.2,270.1 80.0,260.3" fill="#9d9d9d" />
<polygon points="81.9,252.5 88.7,245.3 97.2,240.6 114.6,238.0 123.8,246.6 124.2,259.6 122.7,273.3 110.7,276.7 97.0,277.0 84.3,269.4 81.4,260.2" fill="#a9a9a9" />
<polygon points="83.3,252.9 89.7,246.3 97.1,242.0 114.0,239.3 122.9,247.7 123.1,259.6 121.6,272.8 110.2,275.7 97.7,276.0 85.5,268.7 82.8,260.1" fill="#b4b4b4" />
<polygon points="84.6,253.3 90.7,247.3 96.9,243.5 113.5,240.6 121.9,248.8 122.0,259.7 120.6,272.3 109.6,274.6 98.4,274.9 86.6,268.0 84.2,260.0" fill="#c0c0c0" />
<polygon points="86.0,253.7 91.6,248.3 96.8,244.9 112.9,241.9 121.0,249.9 120.9,259.7 119.6,271.8 109.1,273.6 99.1,273.9 87.8,267.3 85.6,259.9" fill="#cbcbcb" />
<polygon points="87.3,254.2 92.6,249.4 96.7,246.3 112.3,243.2 120.1,251.0 119.8,259.8 118.6,271.3 108.6,272.6 99.8,272.9 88.9,266.6 87.0,259.8" fill="#d6d6d6" />
</g>
<g style="mix-blend-mode:lighten">
<polygon points="120.4,223.2 133.1,216.8 158.7,218.7 175.7,229.5 182.3,246.6 178.1,268.0 162.9,285.1 141.6,289.3 124.6,284.9 117.8,270.3 115.5,244.3" fill="#0a0a0a" />
<polygon points="121.1,225.1 133.2,218.7 157.8,220.3 174.4,230.6 180.8,246.7 177.1,267.5 162.7,284.1 141.6,288.3 125.2,284.1 118.7,270.4 116.4,245.2" fill="#2b2b2b" />
<polygon points="121.9,227.0 133.3,220.5 156.8,221.9 173.0,231.6 179.2,246.7 176.1,266.9 162.5,283.1 141.7,287.3 125.8,283.3 119.5,270.4 117.3,246.1" fill="#414141" />
<polygon points="122.7,228.9 133.4,222.4 155.9,223.6 171.7,232.7 177.7,246.8 175.1,266.3 162.2,282.1 141.8,286.4 126.4,282.5 120.4,270.5 118.3,247.0" fill="#555555" />
<polygon points="123.5,230.9 133.5,224.3 154.9,225.2 170.3,233.8 176.2,246.9 174.1,265.8 162.0,281.1 141.8,285.4 127.0,281.7 121.3,270.5 119.2,247.9" fill="#676767" />
<polygon points="124.3,232.8 133.6,226.2 154.0,226.8 169.0,234.8 174.7,247.0 173.2,265.2 161.8,280.1 141.9,284.5 127.6,281.0 122.1,270.6 120.1,248.8" fill="#787878" />
<polygon points="125.0,234.7 133.7,228.0 153.1,228.4 167.6,235.9 173.2,247.0 172.2,264.7 161.5,279.1 142.0,283.5 128.1,280.2 123.0,270.6 121.0,249.7" fill="#888888" />
<polygon points="125.8,236.6 133.8,229.9 152.1,230.0 166.3,236.9 171.7,247.1 171.2,264.1 161.3,278.1 142.0,282.5 128.7,279.4 123.9,270.7 121.9,250.6" fill="#979797" />
<polygon points="126.6,238.5 134.0,231.8 151.2,231.7 164.9,238.0 170.2,247.2 170.2,263.5 161.1,277.1 142.1,281.6 129.3,278.6 124.8,270.7 122.9,251.5" fill="#a6a6a6" />
<polygon points="127.4,240.4 134.1,233.6 150.3,233.3 163.6,239.1 168.7,247.3 169.2,263.0 160.8,276.1 142.1,280.6 129.9,277.8 125.6,270.8 123.8,252.5" fill="#b4b4b4" />
<polygon points="128.1,242.3 134.2,235.5 149.3,234.9 162.2,240.1 167.2,247.3 168.2,262.4 160.6,275.1 142.2,279.6 130.5,277.1 126.5,270.9 124.7,253.4" fill="#c2c2c2" />
<polygon points="128.9,244.2 134.3,237.4 148.4,236.5 160.9,241.2 165.7,247.4 167.2,261.9 160.4,274.1 142.3,278.7 131.1,276.3 127.4,270.9 125.6,254.3" fill="#d0d0d0" />
<polygon points="129.7,246.1 134.4,239.3 147.5,238.1 159.6,242.2 164.2,247.5 166.3,261.3 160.1,273.1 142.3,277.7 131.7,275.5 128.2,271.0 126.5,255.2" fill="#dddddd" />
<polygon points="130.5,248.0 134.5,241.1 146.5,239.8 158.2,243.3 162.7,247.6 165.3,260.8 159.9,272.1 142.4,276.8 132.3,274.7 129.1,271.0 127.5,256.1" fill="#ebebeb" />
<polygon points="131.3,250.0 134.6,243.0 145.6,241.4 156.9,244.4 161.2,247.6 164.3,260.2 159.7,271.1 142.5,275.8 132.9,274.0 130.0,271.1 128.4,257.0" fill="#f7f7f7" />
</g>
</g></g>
<line x1="28.0" y1="255.7" x2="62.2" y2="205.7" stroke="#111" stroke-width="1.8" />
<line x1="90.9" y1="278.9" x2="115.5" y2="231.1" stroke="#111" stroke-width="1.8" />
<line x1="134.6" y1="283.0" x2="158.6" y2="229.7" stroke="#111" stroke-width="1.8" />
<line x1="87.6" y1="305.7" x2="139.5" y2="294.2" stroke="#111" stroke-width="1.8" />
<line x1="147.4" y1="319.9" x2="174.2" y2="282.2" stroke="#111" stroke-width="1.8" />
<line x1="145.0" y1="326.7" x2="183.8" y2="339.0" stroke="#111" stroke-width="1.8" />
<text x="37.6" y="232.1" font-size="18.5" text-anchor="middle" fill="#111" stroke="#111" stroke-width="0.3">4</text>
<text x="113.3" y="262.2" font-size="18.5" text-anchor="middle" fill="#111" stroke="#111" stroke-width="0.3">6</text>
<text x="156.5" y="266.8" font-size="18.5" text-anchor="middle" fill="#111" stroke="#111" stroke-width="0.3">1</text>
<text x="118.2" y="318.2" font-size="18.5" text-anchor="middle" fill="#111" stroke="#111" stroke-width="0.3">3</text>
<text x="168.7" y="312.2" font-size="18.5" text-anchor="middle" fill="#111" stroke="#111" stroke-width="0.3">2</text>
<text x="158.6" y="348.3" font-size="18.5" text-anchor="middle" fill="#111" stroke="#111" stroke-width="0.3">5</text>
<rect x="40.3" y="356.8" width="46.5" height="2.8" fill="#f4f4f4"/>
<text x="39.4" y="350.0" font-size="23" text-anchor="start" fill="#f4f4f4">2 µm</text>
<text x="0.5" y="17.0" font-size="22.5" text-anchor="start" >a)</text>
<text x="1.8" y="210.0" font-size="22.5" text-anchor="start" >c)</text>
<text x="216.0" y="17.0" font-size="22.5" text-anchor="start" >b)</text>
<text x="1.0" y="409.0" font-size="22.5" text-anchor="start" >d)</text>
<text x="342.0" y="409.0" font-size="22.5" text-anchor="start" >e)</text>
<text x="7.3" y="644.8" font-size="22.5" text-anchor="start" >f)</text>
<text x="332.5" y="645.7" font-size="22.5" text-anchor="start" >g)</text>
<rect x="275.5" y="7.5" width="380.0" height="306.3" fill="none" stroke="#2a2a2a" stroke-width="1.4"/>
<line x1="270.0" y1="304.2" x2="275.5" y2="304.2" stroke="#2a2a2a" stroke-width="1.3" />
<text x="264.8" y="310.0" font-size="16.5" text-anchor="end" >0.0</text>
<line x1="270.0" y1="256.3" x2="275.5" y2="256.3" stroke="#2a2a2a" stroke-width="1.3" />
<text x="264.8" y="262.1" font-size="16.5" text-anchor="end" >0.5</text>
<line x1="270.0" y1="208.4" x2="275.5" y2="208.4" stroke="#2a2a2a" stroke-width="1.3" />
<text x="264.8" y="214.2" font-size="16.5" text-anchor="end" >1.0</text>
<line x1="270.0" y1="160.5" x2="275.5" y2="160.5" stroke="#2a2a2a" stroke-width="1.3" />
<text x="264.8" y="166.3" font-size="16.5" text-anchor="end" >1.5</text>
<line x1="270.0" y1="112.6" x2="275.5" y2="112.6" stroke="#2a2a2a" stroke-width="1.3" />
<text x="264.8" y="118.4" font-size="16.5" text-anchor="end" >2.0</text>
<line x1="270.0" y1="64.7" x2="275.5" y2="64.7" stroke="#2a2a2a" stroke-width="1.3" />
<text x="264.8" y="70.5" font-size="16.5" text-anchor="end" >2.5</text>
<line x1="270.0" y1="16.8" x2="275.5" y2="16.8" stroke="#2a2a2a" stroke-width="1.3" />
<text x="264.8" y="22.6" font-size="16.5" text-anchor="end" >3.0</text>
<line x1="272.5" y1="280.2" x2="275.5" y2="280.2" stroke="#2a2a2a" stroke-width="1.3" />
<line x1="272.5" y1="232.3" x2="275.5" y2="232.3" stroke="#2a2a2a" stroke-width="1.3" />
<line x1="272.5" y1="184.4" x2="275.5" y2="184.4" stroke="#2a2a2a" stroke-width="1.3" />
<line x1="272.5" y1="136.5" x2="275.5" y2="136.5" stroke="#2a2a2a" stroke-width="1.3" />
<line x1="272.5" y1="88.7" x2="275.5" y2="88.7" stroke="#2a2a2a" stroke-width="1.3" />
<line x1="272.5" y1="40.8" x2="275.5" y2="40.8" stroke="#2a2a2a" stroke-width="1.3" />
<line x1="282.5" y1="313.8" x2="282.5" y2="319.3" stroke="#2a2a2a" stroke-width="1.3" />
<text x="282.5" y="337.6" font-size="16.5" text-anchor="middle" >600</text>
<line x1="318.1" y1="313.8" x2="318.1" y2="316.8" stroke="#2a2a2a" stroke-width="1.3" />
<line x1="353.6" y1="313.8" x2="353.6" y2="319.3" stroke="#2a2a2a" stroke-width="1.3" />
<text x="353.6" y="337.6" font-size="16.5" text-anchor="middle" >800</text>
<line x1="389.1" y1="313.8" x2="389.1" y2="316.8" stroke="#2a2a2a" stroke-width="1.3" />
<line x1="424.7" y1="313.8" x2="424.7" y2="319.3" stroke="#2a2a2a" stroke-width="1.3" />
<text x="424.7" y="337.6" font-size="16.5" text-anchor="middle" >1000</text>
<line x1="460.2" y1="313.8" x2="460.2" y2="316.8" stroke="#2a2a2a" stroke-width="1.3" />
<line x1="495.8" y1="313.8" x2="495.8" y2="319.3" stroke="#2a2a2a" stroke-width="1.3" />
<text x="495.8" y="337.6" font-size="16.5" text-anchor="middle" >1200</text>
<line x1="531.4" y1="313.8" x2="531.4" y2="316.8" stroke="#2a2a2a" stroke-width="1.3" />
<line x1="566.9" y1="313.8" x2="566.9" y2="319.3" stroke="#2a2a2a" stroke-width="1.3" />
<text x="566.9" y="337.6" font-size="16.5" text-anchor="middle" >1400</text>
<line x1="602.5" y1="313.8" x2="602.5" y2="316.8" stroke="#2a2a2a" stroke-width="1.3" />
<line x1="638.0" y1="313.8" x2="638.0" y2="319.3" stroke="#2a2a2a" stroke-width="1.3" />
<text x="638.0" y="337.6" font-size="16.5" text-anchor="middle" >1600</text>
<text x="379.3" y="362.0" font-size="20.4" text-anchor="start" >Wavenumber (cm<tspan dy="-8" font-size="12.5">-1</tspan><tspan dy="8">)</tspan></text>
<text transform="translate(231.8,145.3) rotate(-90)" font-size="20.5" text-anchor="middle">Absorption (a.u.)</text>
<line x1="290.9" y1="20.2" x2="330.5" y2="20.2" stroke="#f4912e" stroke-width="2" />
<text x="335.5" y="26.2" font-size="17" text-anchor="start" >nanoFTIR</text>
<line x1="290.9" y1="41.6" x2="330.5" y2="41.6" stroke="#5a4a9e" stroke-width="2" />
<text x="335.5" y="47.6" font-size="17" text-anchor="start" >ATR-FTIR</text>
<line x1="290.9" y1="62.5" x2="330.5" y2="62.5" stroke="#ec3d93" stroke-width="2" />
<text x="335.5" y="68.5" font-size="17" text-anchor="start" >DFT</text>
<polyline points="275.4,303.8 275.8,303.8 276.2,303.8 276.7,303.8 277.1,303.8 277.5,303.8 277.9,303.8 278.4,303.8 278.8,303.8 279.2,303.8 279.7,303.8 280.1,303.8 280.5,303.8 280.9,303.8 281.4,303.8 281.8,303.8 282.2,303.8 282.6,303.8 283.1,303.8 283.5,303.8 283.9,303.8 284.3,303.8 284.8,303.8 285.2,303.8 285.6,303.8 286.1,303.8 286.5,303.8 286.9,303.8 287.3,303.8 287.8,303.8 288.2,303.8 288.6,303.8 289.0,303.8 289.5,303.8 289.9,303.8 290.3,303.8 290.7,303.8 291.2,303.8 291.6,303.8 292.0,303.8 292.5,303.8 292.9,303.8 293.3,303.8 293.7,303.8 294.2,303.8 294.6,303.8 295.0,303.8 295.4,303.8 295.9,303.8 296.3,303.8 296.7,303.7 297.1,303.7 297.6,303.7 298.0,303.7 298.4,303.7 298.9,303.7 299.3,303.7 299.7,303.7 300.1,303.7 300.6,303.6 301.0,303.6 301.4,303.5 301.8,303.4 302.3,303.2 302.7,302.9 303.1,302.5 303.5,301.9 304.0,301.1 304.4,300.4 304.8,299.6 305.3,299.1 305.7,299.0 306.1,299.3 306.5,299.9 307.0,300.6 307.4,301.4 307.8,302.1 308.2,302.6 308.7,303.0 309.1,303.3 309.5,303.5 309.9,303.6 310.4,303.6 310.8,303.7 311.2,303.7 311.7,303.7 312.1,303.7 312.5,303.7 312.9,303.7 313.4,303.7 313.8,303.7 314.2,303.7 314.6,303.7 315.1,303.8 315.5,303.8 315.9,303.8 316.3,303.8 316.8,303.8 317.2,303.8 317.6,303.8 318.1,303.8 318.5,303.8 318.9,303.8 319.3,303.8 319.8,303.8 320.2,303.8 320.6,303.8 321.0,303.8 321.5,303.8 321.9,303.8 322.3,303.8 322.7,303.8 323.2,303.8 323.6,303.8 324.0,303.8 324.4,303.8 324.9,303.8 325.3,303.8 325.7,303.8 326.2,303.8 326.6,303.8 327.0,303.8 327.4,303.8 327.9,303.8 328.3,303.8 328.7,303.8 329.1,303.8 329.6,303.8 330.0,303.8 330.4,303.8 330.8,303.8 331.3,303.8 331.7,303.8 332.1,303.8 332.6,303.8 333.0,303.8 333.4,303.8 333.8,303.8 334.3,303.8 334.7,303.8 335.1,303.8 335.5,303.8 336.0,303.8 336.4,303.8 336.8,303.8 337.2,303.8 337.7,303.8 338.1,303.8 338.5,303.8 339.0,303.8 339.4,303.8 339.8,303.8 340.2,303.8 340.7,303.8 341.1,303.8 341.5,303.8 341.9,303.8 342.4,303.8 342.8,303.8 343.2,303.8 343.6,303.8 344.1,303.8 344.5,303.8 344.9,303.8 345.4,303.8 345.8,303.8 346.2,303.8 346.6,303.8 347.1,303.8 347.5,303.8 347.9,303.8 348.3,303.8 348.8,303.8 349.2,303.8 349.6,303.8 350.0,303.8 350.5,303.8 350.9,303.8 351.3,303.8 351.8,303.8 352.2,303.8 352.6,303.8 353.0,303.8 353.5,303.7 353.9,303.7 354.3,303.7 354.7,303.6 355.2,303.5 355.6,303.3 356.0,303.1 356.4,302.8 356.9,302.7 357.3,302.6 357.7,302.8 358.2,303.0 358.6,303.2 359.0,303.4 359.4,303.6 359.9,303.6 360.3,303.7 360.7,303.7 361.1,303.7 361.6,303.8 362.0,303.8 362.4,303.8 362.8,303.8 363.3,303.8 363.7,303.8 364.1,303.8 364.5,303.8 365.0,303.8 365.4,303.8 365.8,303.8 366.3,303.8 366.7,303.8 367.1,303.8 367.5,303.8 368.0,303.8 368.4,303.8 368.8,303.8 369.2,303.8 369.7,303.8 370.1,303.8 370.5,303.8 370.9,303.8 371.4,303.8 371.8,303.8 372.2,303.8 372.7,303.8 373.1,303.8 373.5,303.8 373.9,303.8 374.4,303.8 374.8,303.8 375.2,303.8 375.6,303.8 376.1,303.8 376.5,303.8 376.9,303.8 377.3,303.8 377.8,303.8 378.2,303.8 378.6,303.8 379.1,303.8 379.5,303.8 379.9,303.8 380.3,303.8 380.8,303.8 381.2,303.8 381.6,303.8 382.0,303.8 382.5,303.8 382.9,303.8 383.3,303.8 383.7,303.8 384.2,303.8 384.6,303.8 385.0,303.8 385.5,303.8 385.9,303.8 386.3,303.8 386.7,303.8 387.2,303.8 387.6,303.8 388.0,303.8 388.4,303.8 388.9,303.8 389.3,303.8 389.7,303.8 390.1,303.8 390.6,303.8 391.0,303.8 391.4,303.8 391.9,303.8 392.3,303.8 392.7,303.8 393.1,303.8 393.6,303.8 394.0,303.8 394.4,303.8 394.8,303.8 395.3,303.8 395.7,303.8 396.1,303.8 396.5,303.8 397.0,303.8 397.4,303.8 397.8,303.8 398.3,303.8 398.7,303.7 399.1,303.7 399.5,303.7 400.0,303.7 400.4,303.7 400.8,303.7 401.2,303.7 401.7,303.7 402.1,303.7 402.5,303.7 402.9,303.7 403.4,303.7 403.8,303.7 404.2,303.7 404.6,303.7 405.1,303.7 405.5,303.7 405.9,303.7 406.4,303.7 406.8,303.7 407.2,303.7 407.6,303.7 408.1,303.7 408.5,303.7 408.9,303.7 409.3,303.7 409.8,303.7 410.2,303.7 410.6,303.7 411.0,303.7 411.5,303.7 411.9,303.7 412.3,303.7 412.8,303.7 413.2,303.7 413.6,303.7 414.0,303.7 414.5,303.7 414.9,303.7 415.3,303.7 415.7,303.7 416.2,303.7 416.6,303.7 417.0,303.7 417.4,303.7 417.9,303.7 418.3,303.7 418.7,303.6 419.2,303.6 419.6,303.6 420.0,303.6 420.4,303.6 420.9,303.6 421.3,303.6 421.7,303.6 422.1,303.6 422.6,303.6 423.0,303.6 423.4,303.6 423.8,303.6 424.3,303.6 424.7,303.5 425.1,303.5 425.6,303.5 426.0,303.5 426.4,303.5 426.8,303.5 427.3,303.5 427.7,303.4 428.1,303.4 428.5,303.4 429.0,303.4 429.4,303.4 429.8,303.3 430.2,303.3 430.7,303.3 431.1,303.2 431.5,303.2 432.0,303.2 432.4,303.1 432.8,303.1 433.2,303.0 433.7,302.9 434.1,302.9 434.5,302.8 434.9,302.7 435.4,302.6 435.8,302.5 436.2,302.3 436.6,302.2 437.1,302.0 437.5,301.7 437.9,301.4 438.4,300.9 438.8,300.1 439.2,298.9 439.6,297.0 440.1,293.9 440.5,289.2 440.9,282.3 441.3,273.1 441.8,261.4 442.2,247.8 442.6,233.6 443.0,220.7 443.5,211.4 443.9,208.0 444.3,211.4 444.8,220.7 445.2,233.6 445.6,247.8 446.0,261.4 446.5,273.0 446.9,282.3 447.3,289.2 447.7,293.9 448.2,297.0 448.6,298.9 449.0,300.1 449.4,300.9 449.9,301.4 450.3,301.7 450.7,302.0 451.1,302.2 451.6,302.3 452.0,302.5 452.4,302.6 452.9,302.7 453.3,302.8 453.7,302.9 454.1,302.9 454.6,303.0 455.0,303.1 455.4,303.1 455.8,303.2 456.3,303.2 456.7,303.2 457.1,303.3 457.5,303.3 458.0,303.3 458.4,303.4 458.8,303.4 459.3,303.4 459.7,303.4 460.1,303.4 460.5,303.5 461.0,303.5 461.4,303.5 461.8,303.5 462.2,303.5 462.7,303.5 463.1,303.5 463.5,303.5 463.9,303.5 464.4,303.6 464.8,303.6 465.2,303.6 465.7,303.6 466.1,303.6 466.5,303.6 466.9,303.6 467.4,303.6 467.8,303.6 468.2,303.6 468.6,303.6 469.1,303.6 469.5,303.6 469.9,303.6 470.3,303.6 470.8,303.6 471.2,303.6 471.6,303.6 472.1,303.6 472.5,303.6 472.9,303.6 473.3,303.7 473.8,303.7 474.2,303.7 474.6,303.7 475.0,303.7 475.5,303.7 475.9,303.7 476.3,303.7 476.7,303.7 477.2,303.7 477.6,303.7 478.0,303.7 478.5,303.7 478.9,303.7 479.3,303.7 479.7,303.7 480.2,303.7 480.6,303.7 481.0,303.7 481.4,303.6 481.9,303.6 482.3,303.6 482.7,303.6 483.1,303.6 483.6,303.6 484.0,303.6 484.4,303.6 484.9,303.6 485.3,303.6 485.7,303.6 486.1,303.6 486.6,303.6 487.0,303.6 487.4,303.5 487.8,303.5 488.3,303.5 488.7,303.5 489.1,303.4 489.5,303.4 490.0,303.2 490.4,303.1 490.8,302.7 491.2,302.2 491.7,301.5 492.1,300.4 492.5,299.1 493.0,297.6 493.4,296.0 493.8,294.8 494.2,294.1 494.7,294.2 495.1,295.1 495.5,296.5 495.9,298.1 496.4,299.5 496.8,300.8 497.2,301.7 497.6,302.3 498.1,302.8 498.5,303.0 498.9,303.1 499.4,303.2 499.8,303.3 500.2,303.3 500.6,303.3 501.1,303.3 501.5,303.2 501.9,303.2 502.3,303.2 502.8,303.1 503.2,303.1 503.6,303.0 504.0,302.9 504.5,302.6 504.9,302.3 505.3,301.7 505.8,300.8 506.2,299.3 506.6,297.3 507.0,294.6 507.5,291.5 507.9,288.3 508.3,285.4 508.7,283.3 509.2,282.6 509.6,283.0 510.0,284.0 510.4,284.8 510.9,285.1 511.3,284.7 511.7,283.9 512.2,283.4 512.6,283.8 513.0,285.4 513.4,288.0 513.9,291.1 514.3,294.1 514.7,296.8 515.1,299.0 515.6,300.5 516.0,301.6 516.4,302.2 516.8,302.6 517.3,302.9 517.7,303.0 518.1,303.1 518.6,303.2 519.0,303.3 519.4,303.3 519.8,303.4 520.3,303.4 520.7,303.4 521.1,303.4 521.5,303.5 522.0,303.5 522.4,303.5 522.8,303.5 523.2,303.5 523.7,303.5 524.1,303.5 524.5,303.6 525.0,303.6 525.4,303.6 525.8,303.6 526.2,303.6 526.7,303.6 527.1,303.6 527.5,303.6 527.9,303.6 528.4,303.6 528.8,303.6 529.2,303.5 529.6,303.5 530.1,303.5 530.5,303.5 530.9,303.5 531.4,303.4 531.8,303.3 532.2,303.2 532.6,302.9 533.1,302.5 533.5,301.8 533.9,300.9 534.3,299.6 534.8,298.2 535.2,296.6 535.6,295.2 536.0,294.3 536.5,294.2 536.9,294.9 537.3,296.1 537.7,297.7 538.2,299.2 538.6,300.5 539.0,301.6 539.5,302.3 539.9,302.8 540.3,303.1 540.7,303.3 541.2,303.4 541.6,303.5 542.0,303.5 542.4,303.6 542.9,303.6 543.3,303.6 543.7,303.6 544.1,303.6 544.6,303.6 545.0,303.6 545.4,303.7 545.9,303.7 546.3,303.7 546.7,303.7 547.1,303.7 547.6,303.7 548.0,303.7 548.4,303.7 548.8,303.7 549.3,303.7 549.7,303.7 550.1,303.7 550.5,303.7 551.0,303.7 551.4,303.7 551.8,303.7 552.3,303.7 552.7,303.7 553.1,303.7 553.5,303.7 554.0,303.7 554.4,303.7 554.8,303.7 555.2,303.7 555.7,303.7 556.1,303.7 556.5,303.7 556.9,303.7 557.4,303.7 557.8,303.7 558.2,303.7 558.7,303.7 559.1,303.7 559.5,303.7 559.9,303.7 560.4,303.7 560.8,303.7 561.2,303.7 561.6,303.7 562.1,303.7 562.5,303.7 562.9,303.7 563.3,303.7 563.8,303.7 564.2,303.7 564.6,303.7 565.1,303.7 565.5,303.7 565.9,303.7 566.3,303.7 566.8,303.7 567.2,303.7 567.6,303.7 568.0,303.7 568.5,303.7 568.9,303.7 569.3,303.7 569.7,303.7 570.2,303.7 570.6,303.7 571.0,303.7 571.5,303.7 571.9,303.7 572.3,303.7 572.7,303.7 573.2,303.7 573.6,303.7 574.0,303.7 574.4,303.7 574.9,303.7 575.3,303.7 575.7,303.7 576.1,303.7 576.6,303.7 577.0,303.7 577.4,303.6 577.8,303.6 578.3,303.6 578.7,303.6 579.1,303.6 579.6,303.6 580.0,303.6 580.4,303.6 580.8,303.6 581.3,303.6 581.7,303.5 582.1,303.5 582.5,303.5 583.0,303.5 583.4,303.5 583.8,303.5 584.2,303.4 584.7,303.4 585.1,303.4 585.5,303.3 586.0,303.3 586.4,303.2 586.8,303.2 587.2,303.1 587.7,303.0 588.1,303.0 588.5,302.8 588.9,302.7 589.4,302.5 589.8,302.3 590.2,302.0 590.6,301.4 591.1,300.4 591.5,298.5 591.9,295.1 592.4,289.5 592.8,281.2 593.2,270.3 593.6,258.2 594.1,247.3 594.5,241.3 594.9,242.5 595.3,250.4 595.8,261.9 596.2,273.6 596.6,283.4 597.0,290.2 597.5,294.3 597.9,296.3 598.3,296.9 598.8,296.8 599.2,296.6 599.6,296.6 600.0,297.1 600.5,297.9 600.9,298.9 601.3,299.9 601.7,300.8 602.2,301.5 602.6,302.1 603.0,302.5 603.4,302.7 603.9,302.8 604.3,302.9 604.7,302.9 605.2,302.9 605.6,302.7 606.0,302.5 606.4,302.0 606.9,301.4 607.3,300.4 607.7,299.2 608.1,297.8 608.6,296.4 609.0,295.2 609.4,294.4 609.8,294.2 610.3,294.5 610.7,295.0 611.1,295.4 611.6,295.5 612.0,295.4 612.4,295.2 612.8,295.0 613.3,295.3 613.7,296.1 614.1,297.2 614.5,298.6 615.0,299.8 615.4,300.9 615.8,301.8 616.2,302.4 616.7,302.8 617.1,303.1 617.5,303.3 617.9,303.4 618.4,303.4 618.8,303.5 619.2,303.5 619.7,303.5 620.1,303.6 620.5,303.6 620.9,303.6 621.4,303.6 621.8,303.6 622.2,303.6 622.6,303.6 623.1,303.6 623.5,303.7 623.9,303.7 624.3,303.7 624.8,303.7 625.2,303.7 625.6,303.7 626.1,303.7 626.5,303.7 626.9,303.7 627.3,303.7 627.8,303.7 628.2,303.7 628.6,303.7 629.0,303.7 629.5,303.7 629.9,303.7 630.3,303.7 630.7,303.7 631.2,303.7 631.6,303.7 632.0,303.7 632.5,303.7 632.9,303.7 633.3,303.7 633.7,303.7 634.2,303.7 634.6,303.7 635.0,303.7 635.4,303.7 635.9,303.7 636.3,303.8 636.7,303.8 637.1,303.8 637.6,303.8 638.0,303.8 638.4,303.8 638.9,303.8 639.3,303.8 639.7,303.8 640.1,303.8 640.6,303.8 641.0,303.8 641.4,303.8 641.8,303.8 642.3,303.8 642.7,303.8 643.1,303.8 643.5,303.8 644.0,303.8 644.4,303.8 644.8,303.8 645.3,303.8 645.7,303.8 646.1,303.8 646.5,303.8 647.0,303.8 647.4,303.8 647.8,303.8 648.2,303.8 648.7,303.8 649.1,303.8 649.5,303.8 649.9,303.8 650.4,303.8 650.8,303.8 651.2,303.8 651.7,303.8 652.1,303.8 652.5,303.8 652.9,303.8 653.4,303.8 653.8,303.8 654.2,303.8 654.6,303.8" fill="none" stroke="#ec3d93" stroke-width="1.8" stroke-linejoin="round" stroke-linecap="round" />
<polyline points="275.4,207.6 275.8,207.6 276.2,207.6 276.7,207.6 277.1,207.6 277.5,207.6 277.9,207.6 278.4,207.6 278.8,207.6 279.2,207.6 279.7,207.6 280.1,207.6 280.5,207.6 280.9,207.6 281.4,207.6 281.8,207.6 282.2,207.6 282.6,207.6 283.1,207.6 283.5,207.6 283.9,207.6 284.3,207.6 284.8,207.6 285.2,207.6 285.6,207.6 286.1,207.6 286.5,207.6 286.9,207.6 287.3,207.6 287.8,207.6 288.2,207.6 288.6,207.5 289.0,207.5 289.5,207.5 289.9,207.5 290.3,207.5 290.7,207.5 291.2,207.5 291.6,207.5 292.0,207.5 292.5,207.5 292.9,207.5 293.3,207.5 293.7,207.5 294.2,207.5 294.6,207.5 295.0,207.5 295.4,207.5 295.9,207.5 296.3,207.4 296.7,207.4 297.1,207.4 297.6,207.4 298.0,207.4 298.4,207.3 298.9,207.3 299.3,207.3 299.7,207.2 300.1,207.1 300.6,207.0 301.0,206.8 301.4,206.5 301.8,205.9 302.3,204.9 302.7,203.3 303.1,201.0 303.5,198.0 304.0,194.6 304.4,191.5 304.8,189.4 305.3,189.0 305.7,190.6 306.1,193.5 306.5,196.9 307.0,200.0 307.4,202.6 307.8,204.4 308.2,205.6 308.7,206.3 309.1,206.8 309.5,207.0 309.9,207.1 310.4,207.2 310.8,207.2 311.2,207.3 311.7,207.3 312.1,207.4 312.5,207.4 312.9,207.4 313.4,207.4 313.8,207.4 314.2,207.4 314.6,207.5 315.1,207.5 315.5,207.5 315.9,207.5 316.3,207.5 316.8,207.5 317.2,207.5 317.6,207.5 318.1,207.5 318.5,207.5 318.9,207.5 319.3,207.5 319.8,207.5 320.2,207.5 320.6,207.5 321.0,207.5 321.5,207.5 321.9,207.5 322.3,207.5 322.7,207.5 323.2,207.6 323.6,207.6 324.0,207.6 324.4,207.6 324.9,207.6 325.3,207.6 325.7,207.6 326.2,207.6 326.6,207.6 327.0,207.6 327.4,207.6 327.9,207.6 328.3,207.6 328.7,207.6 329.1,207.6 329.6,207.6 330.0,207.6 330.4,207.6 330.8,207.6 331.3,207.6 331.7,207.6 332.1,207.6 332.6,207.6 333.0,207.6 333.4,207.6 333.8,207.6 334.3,207.6 334.7,207.6 335.1,207.6 335.5,207.6 336.0,207.6 336.4,207.6 336.8,207.6 337.2,207.6 337.7,207.6 338.1,207.6 338.5,207.6 339.0,207.6 339.4,207.6 339.8,207.6 340.2,207.6 340.7,207.6 341.1,207.6 341.5,207.6 341.9,207.6 342.4,207.6 342.8,207.6 343.2,207.6 343.6,207.6 344.1,207.6 344.5,207.6 344.9,207.6 345.4,207.6 345.8,207.6 346.2,207.6 346.6,207.6 347.1,207.6 347.5,207.6 347.9,207.6 348.3,207.6 348.8,207.6 349.2,207.6 349.6,207.6 350.0,207.6 350.5,207.6 350.9,207.5 351.3,207.5 351.8,207.5 352.2,207.5 352.6,207.5 353.0,207.5 353.5,207.5 353.9,207.5 354.3,207.5 354.7,207.5 355.2,207.5 355.6,207.5 356.0,207.5 356.4,207.4 356.9,207.3 357.3,207.2 357.7,207.0 358.2,206.7 358.6,206.3 359.0,205.8 359.4,205.2 359.9,204.8 360.3,204.6 360.7,204.6 361.1,204.8 361.6,205.2 362.0,205.4 362.4,205.4 362.8,205.2 363.3,204.9 363.7,204.6 364.1,204.4 364.5,204.5 365.0,204.8 365.4,205.4 365.8,205.9 366.3,206.4 366.7,206.8 367.1,207.1 367.5,207.3 368.0,207.4 368.4,207.4 368.8,207.5 369.2,207.5 369.7,207.5 370.1,207.5 370.5,207.5 370.9,207.5 371.4,207.5 371.8,207.5 372.2,207.5 372.7,207.5 373.1,207.5 373.5,207.5 373.9,207.5 374.4,207.5 374.8,207.5 375.2,207.5 375.6,207.5 376.1,207.5 376.5,207.5 376.9,207.5 377.3,207.6 377.8,207.6 378.2,207.6 378.6,207.6 379.1,207.6 379.5,207.6 379.9,207.6 380.3,207.6 380.8,207.6 381.2,207.6 381.6,207.6 382.0,207.6 382.5,207.6 382.9,207.6 383.3,207.6 383.7,207.6 384.2,207.6 384.6,207.6 385.0,207.6 385.5,207.6 385.9,207.6 386.3,207.6 386.7,207.6 387.2,207.6 387.6,207.6 388.0,207.6 388.4,207.6 388.9,207.6 389.3,207.6 389.7,207.5 390.1,207.5 390.6,207.5 391.0,207.5 391.4,207.5 391.9,207.5 392.3,207.5 392.7,207.5 393.1,207.5 393.6,207.5 394.0,207.5 394.4,207.5 394.8,207.5 395.3,207.5 395.7,207.5 396.1,207.5 396.5,207.5 397.0,207.5 397.4,207.5 397.8,207.5 398.3,207.5 398.7,207.5 399.1,207.5 399.5,207.5 400.0,207.5 400.4,207.5 400.8,207.5 401.2,207.5 401.7,207.5 402.1,207.5 402.5,207.5 402.9,207.5 403.4,207.5 403.8,207.5 404.2,207.5 404.6,207.5 405.1,207.5 405.5,207.5 405.9,207.5 406.4,207.5 406.8,207.5 407.2,207.5 407.6,207.5 408.1,207.5 408.5,207.5 408.9,207.5 409.3,207.5 409.8,207.5 410.2,207.5 410.6,207.5 411.0,207.5 411.5,207.5 411.9,207.5 412.3,207.5 412.8,207.5 413.2,207.5 413.6,207.5 414.0,207.5 414.5,207.5 414.9,207.5 415.3,207.5 415.7,207.4 416.2,207.4 416.6,207.4 417.0,207.4 417.4,207.4 417.9,207.4 418.3,207.4 418.7,207.4 419.2,207.4 419.6,207.4 420.0,207.4 420.4,207.4 420.9,207.4 421.3,207.4 421.7,207.4 422.1,207.3 422.6,207.3 423.0,207.3 423.4,207.3 423.8,207.3 424.3,207.3 424.7,207.3 425.1,207.3 425.6,207.2 426.0,207.2 426.4,207.2 426.8,207.2 427.3,207.2 427.7,207.1 428.1,207.1 428.5,207.1 429.0,207.1 429.4,207.0 429.8,207.0 430.2,207.0 430.7,206.9 431.1,206.9 431.5,206.8 432.0,206.8 432.4,206.7 432.8,206.6 433.2,206.5 433.7,206.4 434.1,206.3 434.5,206.2 434.9,206.1 435.4,205.9 435.8,205.7 436.2,205.5 436.6,205.2 437.1,204.8 437.5,204.1 437.9,203.2 438.4,201.7 438.8,199.4 439.2,195.9 439.6,190.9 440.1,184.0 440.5,175.1 440.9,164.2 441.3,151.8 441.8,138.9 442.2,126.9 442.6,117.7 443.0,113.1 443.5,114.0 443.9,120.4 444.3,130.7 444.8,143.1 445.2,156.0 445.6,168.0 446.0,178.3 446.5,186.5 446.9,192.8 447.3,197.2 447.7,200.3 448.2,202.2 448.6,203.5 449.0,204.4 449.4,204.9 449.9,205.3 450.3,205.6 450.7,205.8 451.1,205.9 451.6,206.1 452.0,206.2 452.4,206.3 452.9,206.4 453.3,206.5 453.7,206.6 454.1,206.6 454.6,206.7 455.0,206.7 455.4,206.7 455.8,206.7 456.3,206.8 456.7,206.8 457.1,206.8 457.5,206.8 458.0,206.8 458.4,206.7 458.8,206.7 459.3,206.7 459.7,206.7 460.1,206.7 460.5,206.6 461.0,206.6 461.4,206.6 461.8,206.6 462.2,206.6 462.7,206.5 463.1,206.5 463.5,206.5 463.9,206.6 464.4,206.6 464.8,206.6 465.2,206.6 465.7,206.7 466.1,206.7 466.5,206.7 466.9,206.8 467.4,206.8 467.8,206.9 468.2,206.9 468.6,207.0 469.1,207.0 469.5,207.0 469.9,207.1 470.3,207.1 470.8,207.2 471.2,207.2 471.6,207.2 472.1,207.3 472.5,207.3 472.9,207.3 473.3,207.3 473.8,207.3 474.2,207.3 474.6,207.4 475.0,207.4 475.5,207.4 475.9,207.4 476.3,207.4 476.7,207.4 477.2,207.4 477.6,207.4 478.0,207.4 478.5,207.4 478.9,207.4 479.3,207.4 479.7,207.4 480.2,207.4 480.6,207.4 481.0,207.4 481.4,207.4 481.9,207.4 482.3,207.4 482.7,207.4 483.1,207.4 483.6,207.4 484.0,207.4 484.4,207.4 484.9,207.4 485.3,207.3 485.7,207.3 486.1,207.3 486.6,207.3 487.0,207.3 487.4,207.3 487.8,207.3 488.3,207.2 488.7,207.2 489.1,207.2 489.5,207.2 490.0,207.1 490.4,207.1 490.8,207.0 491.2,206.9 491.7,206.8 492.1,206.7 492.5,206.5 493.0,206.1 493.4,205.3 493.8,203.9 494.2,201.2 494.7,196.9 495.1,191.0 495.5,184.3 495.9,178.4 496.4,175.7 496.8,177.6 497.2,183.1 497.6,189.8 498.1,195.9 498.5,200.4 498.9,203.3 499.4,204.9 499.8,205.7 500.2,206.1 500.6,206.2 501.1,206.3 501.5,206.2 501.9,206.1 502.3,205.9 502.8,205.4 503.2,204.7 503.6,203.7 504.0,202.2 504.5,200.2 504.9,197.6 505.3,194.6 505.8,191.4 506.2,188.1 506.6,185.3 507.0,183.5 507.5,183.0 507.9,184.0 508.3,186.2 508.7,189.2 509.2,192.5 509.6,195.8 510.0,198.7 510.4,201.1 510.9,202.9 511.3,204.3 511.7,205.3 512.2,205.9 512.6,206.3 513.0,206.6 513.4,206.7 513.9,206.9 514.3,207.0 514.7,207.0 515.1,207.1 515.6,207.1 516.0,207.1 516.4,207.2 516.8,207.2 517.3,207.2 517.7,207.2 518.1,207.3 518.6,207.3 519.0,207.3 519.4,207.3 519.8,207.3 520.3,207.3 520.7,207.3 521.1,207.3 521.5,207.3 522.0,207.3 522.4,207.3 522.8,207.3 523.2,207.3 523.7,207.3 524.1,207.3 524.5,207.3 525.0,207.3 525.4,207.3 525.8,207.3 526.2,207.3 526.7,207.2 527.1,207.2 527.5,207.1 527.9,207.0 528.4,206.8 528.8,206.5 529.2,205.9 529.6,205.1 530.1,203.9 530.5,202.3 530.9,200.5 531.4,198.7 531.8,197.1 532.2,196.1 532.6,196.2 533.1,197.1 533.5,198.7 533.9,200.6 534.3,202.4 534.8,203.9 535.2,205.1 535.6,205.9 536.0,206.5 536.5,206.8 536.9,207.0 537.3,207.2 537.7,207.2 538.2,207.3 538.6,207.3 539.0,207.3 539.5,207.4 539.9,207.4 540.3,207.4 540.7,207.4 541.2,207.4 541.6,207.4 542.0,207.4 542.4,207.5 542.9,207.5 543.3,207.5 543.7,207.5 544.1,207.5 544.6,207.5 545.0,207.5 545.4,207.5 545.9,207.5 546.3,207.5 546.7,207.5 547.1,207.5 547.6,207.5 548.0,207.5 548.4,207.5 548.8,207.5 549.3,207.5 549.7,207.5 550.1,207.5 550.5,207.5 551.0,207.5 551.4,207.5 551.8,207.5 552.3,207.5 552.7,207.5 553.1,207.5 553.5,207.5 554.0,207.5 554.4,207.5 554.8,207.5 555.2,207.5 555.7,207.5 556.1,207.5 556.5,207.5 556.9,207.5 557.4,207.5 557.8,207.5 558.2,207.5 558.7,207.5 559.1,207.5 559.5,207.5 559.9,207.5 560.4,207.5 560.8,207.5 561.2,207.5 561.6,207.5 562.1,207.5 562.5,207.5 562.9,207.5 563.3,207.5 563.8,207.5 564.2,207.5 564.6,207.5 565.1,207.5 565.5,207.5 565.9,207.5 566.3,207.5 566.8,207.5 567.2,207.5 567.6,207.5 568.0,207.5 568.5,207.5 568.9,207.5 569.3,207.5 569.7,207.5 570.2,207.5 570.6,207.5 571.0,207.5 571.5,207.5 571.9,207.5 572.3,207.5 572.7,207.5 573.2,207.5 573.6,207.5 574.0,207.5 574.4,207.5 574.9,207.5 575.3,207.5 575.7,207.5 576.1,207.4 576.6,207.4 577.0,207.4 577.4,207.4 577.8,207.4 578.3,207.4 578.7,207.4 579.1,207.4 579.6,207.4 580.0,207.3 580.4,207.3 580.8,207.3 581.3,207.3 581.7,207.2 582.1,207.2 582.5,207.2 583.0,207.1 583.4,207.1 583.8,207.0 584.2,206.9 584.7,206.9 585.1,206.7 585.5,206.6 586.0,206.3 586.4,205.8 586.8,205.0 587.2,203.6 587.7,201.1 588.1,197.4 588.5,192.2 588.9,185.8 589.4,179.0 589.8,173.1 590.2,169.9 590.6,170.6 591.1,174.8 591.5,181.2 591.9,188.0 592.4,194.0 592.8,198.7 593.2,202.0 593.6,204.0 594.1,205.2 594.5,205.8 594.9,206.1 595.3,206.1 595.8,205.9 596.2,205.3 596.6,204.4 597.0,203.0 597.5,201.3 597.9,199.7 598.3,198.7 598.8,198.7 599.2,199.8 599.6,201.5 600.0,203.2 600.5,204.7 600.9,205.7 601.3,206.4 601.7,206.8 602.2,207.0 602.6,207.1 603.0,207.1 603.4,207.2 603.9,207.2 604.3,207.2 604.7,207.2 605.2,207.2 605.6,207.2 606.0,207.2 606.4,207.1 606.9,207.1 607.3,207.0 607.7,206.8 608.1,206.5 608.6,205.9 609.0,204.8 609.4,203.0 609.8,200.5 610.3,197.5 610.7,194.6 611.1,192.7 611.6,192.7 612.0,194.6 612.4,197.5 612.8,200.5 613.3,203.0 613.7,204.8 614.1,205.9 614.5,206.6 615.0,206.9 615.4,207.1 615.8,207.2 616.2,207.2 616.7,207.3 617.1,207.3 617.5,207.4 617.9,207.4 618.4,207.4 618.8,207.4 619.2,207.4 619.7,207.4 620.1,207.5 620.5,207.5 620.9,207.5 621.4,207.5 621.8,207.5 622.2,207.5 622.6,207.5 623.1,207.5 623.5,207.5 623.9,207.5 624.3,207.5 624.8,207.5 625.2,207.5 625.6,207.5 626.1,207.5 626.5,207.5 626.9,207.5 627.3,207.5 627.8,207.5 628.2,207.5 628.6,207.5 629.0,207.5 629.5,207.5 629.9,207.6 630.3,207.6 630.7,207.6 631.2,207.6 631.6,207.6 632.0,207.6 632.5,207.6 632.9,207.6 633.3,207.6 633.7,207.6 634.2,207.6 634.6,207.6 635.0,207.6 635.4,207.6 635.9,207.6 636.3,207.6 636.7,207.6 637.1,207.6 637.6,207.6 638.0,207.6 638.4,207.6 638.9,207.6 639.3,207.6 639.7,207.6 640.1,207.6 640.6,207.6 641.0,207.6 641.4,207.6 641.8,207.6 642.3,207.6 642.7,207.6 643.1,207.6 643.5,207.6 644.0,207.6 644.4,207.6 644.8,207.6 645.3,207.6 645.7,207.6 646.1,207.6 646.5,207.6 647.0,207.6 647.4,207.6 647.8,207.6 648.2,207.6 648.7,207.6 649.1,207.6 649.5,207.6 649.9,207.6 650.4,207.6 650.8,207.6 651.2,207.6 651.7,207.6 652.1,207.6 652.5,207.6 652.9,207.6 653.4,207.6 653.8,207.6 654.2,207.6 654.6,207.6" fill="none" stroke="#5a4a9e" stroke-width="1.8" stroke-linejoin="round" stroke-linecap="round" />
<path d="M300.4,80.4 C300.7,79.7 301.5,77.0 302.0,76.0 C302.5,75.0 303.1,74.1 303.6,74.4 C304.1,74.7 304.5,76.2 305.0,78.0 C305.5,79.8 306.0,82.7 306.5,85.0 C307.0,87.3 307.5,90.2 308.0,92.0 C308.5,93.8 309.0,95.2 309.6,95.5 C310.2,95.8 310.9,95.1 311.5,94.0 C312.1,92.9 312.8,90.7 313.5,89.0 C314.2,87.3 314.9,85.1 315.5,84.0 C316.1,82.9 316.8,82.3 317.4,82.2 C318.0,82.1 318.6,82.7 319.2,83.5 C319.8,84.3 320.4,85.8 321.0,87.0 C321.6,88.2 322.1,89.8 322.5,90.5 C322.9,91.2 323.2,91.8 323.7,91.5 C324.2,91.2 324.9,90.5 325.5,89.0 C326.1,87.5 326.9,84.0 327.5,82.5 C328.1,81.0 328.3,80.1 328.8,80.0 C329.3,79.9 329.8,80.7 330.3,82.0 C330.8,83.3 331.4,86.4 332.0,88.0 C332.6,89.6 333.1,91.3 333.6,91.5 C334.1,91.7 334.5,90.2 335.0,89.0 C335.5,87.8 336.4,85.3 336.7,84.6" fill="none" stroke="#f9c48e" stroke-width="1.7" stroke-linejoin="round" stroke-linecap="round" />
<path d="M619.0,76.8 C619.5,77.9 621.0,85.2 622.0,83.5 C623.0,81.8 623.9,67.8 625.0,66.6 C626.1,65.4 627.5,75.0 628.6,76.2 C629.7,77.4 630.7,74.0 631.7,73.8 C632.7,73.6 633.7,75.2 634.7,75.0 C635.7,74.8 636.5,71.1 637.7,72.6 C638.9,74.1 640.6,84.0 641.9,84.0 C643.2,84.0 644.4,73.9 645.5,72.6 C646.6,71.3 647.5,77.9 648.5,76.2 C649.5,74.5 650.8,64.0 651.8,62.4 C652.8,60.8 654.0,65.9 654.5,66.6" fill="none" stroke="#f9c48e" stroke-width="1.7" stroke-linejoin="round" stroke-linecap="round" />
<path d="M336.7,84.6 C337.3,84.8 338.9,85.4 340.3,85.8 C341.7,86.2 343.6,87.0 345.0,87.0 C346.4,87.0 347.3,85.8 348.7,85.8 C350.1,85.8 351.9,86.7 353.5,87.0 C355.1,87.3 356.7,88.0 358.3,87.6 C359.9,87.2 361.1,84.9 363.0,84.6 C364.9,84.3 367.2,85.5 370.0,86.0 C372.8,86.5 376.7,87.1 380.0,87.5 C383.3,87.9 386.7,88.2 390.0,88.5 C393.3,88.8 396.7,89.2 400.0,89.5 C403.3,89.8 406.7,90.0 410.0,90.5 C413.3,91.0 417.6,92.2 420.0,92.6 C422.4,92.9 423.2,92.2 424.5,92.6 C425.8,93.0 426.5,94.7 427.5,94.8 C428.5,94.9 429.5,92.9 430.5,93.3 C431.5,93.7 432.6,97.3 433.5,97.1 C434.4,96.9 435.5,92.5 436.2,92.3 C436.9,92.0 437.2,93.5 437.7,95.6 C438.2,97.6 438.6,106.4 439.2,104.6 C439.8,102.8 440.4,95.8 441.0,85.0 C441.6,74.2 442.2,51.4 442.8,40.0 C443.4,28.6 443.8,18.1 444.3,16.8 C444.8,15.6 445.2,23.6 445.8,32.5 C446.4,41.4 447.4,61.8 447.8,70.0 C448.2,78.2 448.0,80.5 448.5,82.0 C449.0,83.5 450.2,79.0 450.8,79.0 C451.4,79.0 451.7,80.6 452.3,82.0 C452.9,83.4 453.4,86.9 454.2,87.3 C455.0,87.7 456.3,84.3 457.2,84.3 C458.1,84.3 458.8,86.9 459.8,87.3 C460.9,87.7 462.1,86.5 463.5,86.6 C464.9,86.7 466.5,87.4 468.0,88.0 C469.5,88.6 471.0,89.7 472.5,90.3 C474.0,90.9 475.5,91.7 477.0,91.8 C478.5,91.9 480.1,90.8 481.6,91.1 C483.1,91.3 484.9,93.2 486.1,93.3 C487.3,93.4 488.0,91.5 489.0,91.8 C490.0,92.1 491.1,96.4 492.0,95.3 C492.9,94.2 493.5,89.2 494.3,85.0 C495.1,80.8 496.1,71.2 496.9,70.0 C497.6,68.8 498.1,74.2 498.8,77.6 C499.5,81.0 500.2,88.3 501.1,90.3 C502.0,92.3 503.1,92.2 504.1,89.6 C505.1,87.0 506.2,78.9 507.1,74.6 C508.0,70.3 508.6,64.8 509.3,64.0 C510.1,63.2 510.5,66.5 511.6,70.0 C512.7,73.5 515.0,82.3 516.1,85.0 C517.2,87.7 516.9,85.8 518.0,86.3 C519.1,86.8 521.2,87.7 522.5,87.8 C523.8,87.9 524.4,86.6 525.5,86.8 C526.6,87.0 528.0,90.4 529.3,88.9 C530.5,87.4 531.6,78.7 533.0,78.0 C534.4,77.3 536.1,83.4 537.5,84.8 C538.9,86.2 539.9,85.3 541.3,86.3 C542.7,87.3 544.2,90.9 545.8,90.8 C547.4,90.7 549.5,85.8 551.0,85.6 C552.5,85.3 553.5,89.2 554.8,89.3 C556.0,89.4 557.2,85.9 558.5,86.3 C559.8,86.7 561.3,91.8 562.7,91.6 C564.1,91.3 565.6,85.7 566.8,84.8 C568.0,83.9 568.8,86.5 569.8,86.3 C570.8,86.1 571.8,83.2 572.8,83.8 C573.8,84.4 574.8,89.7 575.8,90.0 C576.8,90.3 577.3,87.4 578.8,85.6 C580.3,83.8 583.4,80.1 584.8,79.2 C586.2,78.3 586.2,85.1 587.2,80.4 C588.2,75.7 589.8,55.4 590.6,50.8 C591.4,46.2 591.2,47.6 591.8,53.0 C592.4,58.4 593.3,79.6 594.4,82.9 C595.5,86.2 597.5,72.6 598.6,72.6 C599.7,72.6 600.1,82.3 601.0,82.9 C601.9,83.5 603.1,76.5 604.0,76.2 C604.9,75.9 605.1,84.3 606.4,81.0 C607.6,77.7 610.0,58.1 611.5,56.4 C613.0,54.7 614.1,67.4 615.4,70.8 C616.6,74.2 618.4,75.8 619.0,76.8" fill="none" stroke="#f4912e" stroke-width="1.7" stroke-linejoin="round" stroke-linecap="round" />
<rect x="64.5" y="398.6" width="253.60000000000002" height="205.10000000000002" fill="none" stroke="#2a2a2a" stroke-width="1.3"/>
<line x1="60.5" y1="590.0" x2="64.5" y2="590.0" stroke="#2a2a2a" stroke-width="1.2" />
<text x="57.5" y="595.0" font-size="14.5" text-anchor="end" >0.0</text>
<line x1="62.0" y1="562.6" x2="64.5" y2="562.6" stroke="#2a2a2a" stroke-width="1.2" />
<line x1="60.5" y1="535.3" x2="64.5" y2="535.3" stroke="#2a2a2a" stroke-width="1.2" />
<text x="57.5" y="540.3" font-size="14.5" text-anchor="end" >0.2</text>
<line x1="62.0" y1="507.9" x2="64.5" y2="507.9" stroke="#2a2a2a" stroke-width="1.2" />
<line x1="60.5" y1="480.6" x2="64.5" y2="480.6" stroke="#2a2a2a" stroke-width="1.2" />
<text x="57.5" y="485.6" font-size="14.5" text-anchor="end" >0.4</text>
<line x1="62.0" y1="453.2" x2="64.5" y2="453.2" stroke="#2a2a2a" stroke-width="1.2" />
<line x1="60.5" y1="425.9" x2="64.5" y2="425.9" stroke="#2a2a2a" stroke-width="1.2" />
<text x="57.5" y="430.9" font-size="14.5" text-anchor="end" >0.6</text>
<line x1="72.5" y1="603.7" x2="72.5" y2="607.7" stroke="#2a2a2a" stroke-width="1.2" />
<text x="72.5" y="622.0" font-size="14.5" text-anchor="middle" >0.0</text>
<line x1="93.7" y1="603.7" x2="93.7" y2="606.2" stroke="#2a2a2a" stroke-width="1.2" />
<line x1="114.9" y1="603.7" x2="114.9" y2="607.7" stroke="#2a2a2a" stroke-width="1.2" />
<text x="114.9" y="622.0" font-size="14.5" text-anchor="middle" >0.5</text>
<line x1="136.1" y1="603.7" x2="136.1" y2="606.2" stroke="#2a2a2a" stroke-width="1.2" />
<line x1="157.3" y1="603.7" x2="157.3" y2="607.7" stroke="#2a2a2a" stroke-width="1.2" />
<text x="157.3" y="622.0" font-size="14.5" text-anchor="middle" >1.0</text>
<line x1="178.4" y1="603.7" x2="178.4" y2="606.2" stroke="#2a2a2a" stroke-width="1.2" />
<line x1="199.6" y1="603.7" x2="199.6" y2="607.7" stroke="#2a2a2a" stroke-width="1.2" />
<text x="199.6" y="622.0" font-size="14.5" text-anchor="middle" >1.5</text>
<line x1="220.8" y1="603.7" x2="220.8" y2="606.2" stroke="#2a2a2a" stroke-width="1.2" />
<line x1="242.0" y1="603.7" x2="242.0" y2="607.7" stroke="#2a2a2a" stroke-width="1.2" />
<text x="242.0" y="622.0" font-size="14.5" text-anchor="middle" >2.0</text>
<line x1="263.2" y1="603.7" x2="263.2" y2="606.2" stroke="#2a2a2a" stroke-width="1.2" />
<line x1="284.4" y1="603.7" x2="284.4" y2="607.7" stroke="#2a2a2a" stroke-width="1.2" />
<text x="284.4" y="622.0" font-size="14.5" text-anchor="middle" >2.5</text>
<line x1="305.6" y1="603.7" x2="305.6" y2="606.2" stroke="#2a2a2a" stroke-width="1.2" />
<text x="161.0" y="639.5" font-size="20" text-anchor="start" >x (µm)</text>
<text transform="translate(28,501.7) rotate(-90)" font-size="22.3" text-anchor="middle">Height, z (µm)</text>
<line x1="269.9" y1="408.9" x2="303.1" y2="408.9" stroke="#1e1e1e" stroke-width="2" />
<text x="306.5" y="414.1" font-size="14.5" text-anchor="start" >1</text>
<line x1="269.9" y1="426.6" x2="303.1" y2="426.6" stroke="#4a88d8" stroke-width="1.7" />
<text x="306.5" y="431.8" font-size="14.5" text-anchor="start" >2</text>
<line x1="269.9" y1="444.3" x2="303.1" y2="444.3" stroke="#f5962c" stroke-width="1.7" />
<text x="306.5" y="449.5" font-size="14.5" text-anchor="start" >3</text>
<line x1="269.9" y1="462.0" x2="303.1" y2="462.0" stroke="#ec3c8e" stroke-width="1.7" />
<text x="306.5" y="467.2" font-size="14.5" text-anchor="start" >4</text>
<line x1="269.9" y1="479.7" x2="303.1" y2="479.7" stroke="#2e3896" stroke-width="2" />
<text x="306.5" y="484.9" font-size="14.5" text-anchor="start" >5</text>
<line x1="269.9" y1="497.4" x2="303.1" y2="497.4" stroke="#c4c4c4" stroke-width="1.7" />
<text x="306.5" y="502.6" font-size="14.5" text-anchor="start" >6</text>
<path d="M72.7,538.4 C73.8,536.7 76.8,533.8 79.5,528.3 C82.2,522.8 86.2,512.5 89.1,505.1 C92.0,497.7 93.7,489.9 96.9,483.8 C100.1,477.7 103.3,473.1 108.5,468.4 C113.7,463.7 121.3,460.3 127.8,455.8 C134.2,451.3 141.8,445.9 147.2,441.3 C152.6,436.7 156.9,430.4 160.0,428.1 C163.1,425.8 161.6,427.5 165.8,427.4 C170.0,427.3 180.8,426.9 185.1,427.4 C189.4,427.9 189.6,428.6 191.9,430.6 C194.2,432.6 195.0,435.3 198.7,439.3 C202.4,443.3 209.4,450.0 214.2,454.8 C219.0,459.6 223.8,464.0 227.7,468.4 C231.6,472.8 235.8,478.8 237.4,480.9" fill="none" stroke="#c4c4c4" stroke-width="1.7" stroke-linejoin="round" stroke-linecap="round" />
<path d="M72.7,516.7 C74.2,517.0 79.3,519.2 81.4,518.3 C83.5,517.3 83.7,514.5 85.3,511.0 C86.9,507.5 89.0,501.6 91.1,497.4 C93.2,493.2 95.5,490.0 97.8,485.8 C100.0,481.6 102.2,475.8 104.6,472.2 C107.0,468.6 109.5,465.6 112.4,464.1 C115.3,462.7 117.2,463.6 122.0,463.5 C126.8,463.4 135.1,463.5 141.4,463.5 C147.7,463.5 152.1,463.6 160.0,463.5 C167.9,463.4 180.0,462.7 189.0,462.9 C198.0,463.1 208.4,463.6 214.2,464.5 C220.0,465.4 220.9,465.5 223.8,468.4 C226.7,471.3 228.7,473.8 231.6,481.9 C234.5,489.9 238.3,506.1 241.2,516.7 C244.1,527.3 246.4,535.7 249.0,545.7 C251.6,555.8 254.7,571.7 256.6,577.0 C258.5,582.3 259.7,577.2 260.3,577.3" fill="none" stroke="#f5962c" stroke-width="1.6" stroke-linejoin="round" stroke-linecap="round" />
<path d="M72.7,591.2 C73.8,587.8 77.1,579.5 79.5,570.9 C81.9,562.3 84.6,549.6 87.2,539.9 C89.8,530.2 92.3,519.9 94.9,512.8 C97.5,505.7 99.8,500.9 102.7,497.4 C105.6,493.9 107.6,492.3 112.4,491.6 C117.2,490.9 123.8,492.5 131.7,493.1 C139.6,493.7 151.1,494.8 160.0,495.4 C168.9,495.9 179.5,495.9 185.1,496.4 C190.7,496.9 191.2,495.9 193.8,498.3 C196.4,500.7 198.5,505.2 200.6,510.9 C202.7,516.5 204.3,525.6 206.4,532.2 C208.5,538.8 211.6,547.4 213.2,550.6 C214.8,553.8 214.5,552.1 216.1,551.5 C217.7,550.9 221.8,547.5 222.9,546.7" fill="none" stroke="#4a88d8" stroke-width="1.6" stroke-linejoin="round" stroke-linecap="round" />
<path d="M72.7,549.2 C73.8,546.7 77.1,540.5 79.5,534.1 C81.9,527.7 85.0,517.8 87.2,510.9 C89.5,504.0 90.4,496.5 93.0,492.5 C95.6,488.5 98.5,488.1 102.7,486.7 C106.9,485.2 113.4,483.8 118.2,483.8 C123.0,483.8 124.7,485.4 131.7,486.7 C138.7,488.0 152.1,490.2 160.0,491.6 C167.9,493.1 174.2,494.3 179.3,495.4 C184.5,496.5 188.0,496.7 190.9,498.3 C193.8,499.9 195.0,501.4 196.8,505.1 C198.6,508.8 200.0,514.2 201.6,520.6 C203.2,527.0 205.1,539.7 206.4,543.8 C207.7,547.9 208.2,545.6 209.3,545.3 C210.4,545.0 212.5,542.5 213.2,541.9" fill="none" stroke="#2e3896" stroke-width="1.7" stroke-linejoin="round" stroke-linecap="round" />
<path d="M72.7,566.0 C74.2,563.9 78.7,558.8 81.4,553.5 C84.1,548.2 86.5,542.8 89.1,534.1 C91.7,525.4 94.3,511.8 96.9,501.2 C99.5,490.6 102.0,478.7 104.6,470.3 C107.2,461.9 109.8,456.6 112.4,451.0 C115.0,445.4 117.5,439.6 120.1,436.4 C122.7,433.2 124.2,432.9 127.8,432.0 C131.3,431.1 136.0,431.2 141.4,431.0 C146.8,430.8 152.1,430.6 160.0,430.6 C167.9,430.6 179.3,431.2 189.0,431.0 C198.7,430.8 209.6,429.1 218.0,429.3 C226.4,429.5 234.8,430.6 239.3,432.0 C243.8,433.4 242.8,432.9 245.1,437.4 C247.3,441.8 250.3,451.0 252.8,458.7 C255.3,466.4 256.0,471.6 260.0,483.8 C264.0,496.0 274.1,523.8 276.9,531.8" fill="none" stroke="#ec3c8e" stroke-width="1.6" stroke-linejoin="round" stroke-linecap="round" />
<path d="M72.7,526.0 C73.5,524.5 75.7,519.9 77.5,516.7 C79.3,513.5 81.4,511.2 83.3,507.0 C85.2,502.8 87.1,497.7 89.1,491.6 C91.0,485.5 93.0,476.8 95.0,470.3 C97.0,463.9 98.5,457.2 100.8,452.9 C103.0,448.5 105.9,446.0 108.5,444.2 C111.1,442.4 112.3,442.8 116.2,442.2 C120.1,441.6 126.9,441.4 131.7,440.9 C136.5,440.4 140.5,439.6 145.2,439.3 C149.9,439.0 154.9,439.2 160.0,439.0 C165.1,438.8 170.3,438.7 175.5,437.8 C180.7,436.9 185.8,434.5 191.0,433.9 C196.2,433.2 202.2,433.3 206.4,433.9 C210.6,434.5 213.2,434.2 216.1,437.4 C219.0,440.6 220.9,446.1 223.8,452.9 C226.7,459.7 230.3,469.0 233.5,478.0 C236.7,487.0 239.8,496.5 243.2,507.0 C246.5,517.5 251.9,535.2 253.6,540.8" fill="none" stroke="#1e1e1e" stroke-width="1.8" stroke-linejoin="round" stroke-linecap="round" />
<rect x="399.5" y="398.5" width="253.89999999999998" height="205.29999999999995" fill="none" stroke="#2a2a2a" stroke-width="1.3"/>
<line x1="395.5" y1="589.6" x2="399.5" y2="589.6" stroke="#2a2a2a" stroke-width="1.2" />
<text x="392.5" y="594.6" font-size="14.5" text-anchor="end" >0</text>
<line x1="397.0" y1="570.5" x2="399.5" y2="570.5" stroke="#2a2a2a" stroke-width="1.2" />
<line x1="395.5" y1="551.4" x2="399.5" y2="551.4" stroke="#2a2a2a" stroke-width="1.2" />
<text x="392.5" y="556.4" font-size="14.5" text-anchor="end" >5</text>
<line x1="397.0" y1="532.3" x2="399.5" y2="532.3" stroke="#2a2a2a" stroke-width="1.2" />
<line x1="395.5" y1="513.2" x2="399.5" y2="513.2" stroke="#2a2a2a" stroke-width="1.2" />
<text x="392.5" y="518.2" font-size="14.5" text-anchor="end" >10</text>
<line x1="397.0" y1="494.1" x2="399.5" y2="494.1" stroke="#2a2a2a" stroke-width="1.2" />
<line x1="395.5" y1="475.0" x2="399.5" y2="475.0" stroke="#2a2a2a" stroke-width="1.2" />
<text x="392.5" y="480.0" font-size="14.5" text-anchor="end" >15</text>
<line x1="397.0" y1="455.9" x2="399.5" y2="455.9" stroke="#2a2a2a" stroke-width="1.2" />
<line x1="395.5" y1="436.8" x2="399.5" y2="436.8" stroke="#2a2a2a" stroke-width="1.2" />
<text x="392.5" y="441.8" font-size="14.5" text-anchor="end" >20</text>
<line x1="397.0" y1="417.7" x2="399.5" y2="417.7" stroke="#2a2a2a" stroke-width="1.2" />
<line x1="395.5" y1="398.6" x2="399.5" y2="398.6" stroke="#2a2a2a" stroke-width="1.2" />
<text x="392.5" y="403.6" font-size="14.5" text-anchor="end" >25</text>
<line x1="399.5" y1="603.8" x2="399.5" y2="607.8" stroke="#2a2a2a" stroke-width="1.2" />
<text x="399.5" y="622.0" font-size="14.5" text-anchor="middle" >0</text>
<line x1="415.4" y1="603.8" x2="415.4" y2="606.3" stroke="#2a2a2a" stroke-width="1.2" />
<line x1="431.2" y1="603.8" x2="431.2" y2="607.8" stroke="#2a2a2a" stroke-width="1.2" />
<text x="431.2" y="622.0" font-size="14.5" text-anchor="middle" >20</text>
<line x1="447.1" y1="603.8" x2="447.1" y2="606.3" stroke="#2a2a2a" stroke-width="1.2" />
<line x1="463.0" y1="603.8" x2="463.0" y2="607.8" stroke="#2a2a2a" stroke-width="1.2" />
<text x="463.0" y="622.0" font-size="14.5" text-anchor="middle" >40</text>
<line x1="478.9" y1="603.8" x2="478.9" y2="606.3" stroke="#2a2a2a" stroke-width="1.2" />
<line x1="494.7" y1="603.8" x2="494.7" y2="607.8" stroke="#2a2a2a" stroke-width="1.2" />
<text x="494.7" y="622.0" font-size="14.5" text-anchor="middle" >60</text>
<line x1="510.6" y1="603.8" x2="510.6" y2="606.3" stroke="#2a2a2a" stroke-width="1.2" />
<line x1="526.5" y1="603.8" x2="526.5" y2="607.8" stroke="#2a2a2a" stroke-width="1.2" />
<text x="526.5" y="622.0" font-size="14.5" text-anchor="middle" >80</text>
<line x1="542.3" y1="603.8" x2="542.3" y2="606.3" stroke="#2a2a2a" stroke-width="1.2" />
<line x1="558.2" y1="603.8" x2="558.2" y2="607.8" stroke="#2a2a2a" stroke-width="1.2" />
<text x="558.2" y="622.0" font-size="14.5" text-anchor="middle" >100</text>
<line x1="574.1" y1="603.8" x2="574.1" y2="606.3" stroke="#2a2a2a" stroke-width="1.2" />
<line x1="589.9" y1="603.8" x2="589.9" y2="607.8" stroke="#2a2a2a" stroke-width="1.2" />
<text x="589.9" y="622.0" font-size="14.5" text-anchor="middle" >120</text>
<line x1="605.8" y1="603.8" x2="605.8" y2="606.3" stroke="#2a2a2a" stroke-width="1.2" />
<line x1="621.7" y1="603.8" x2="621.7" y2="607.8" stroke="#2a2a2a" stroke-width="1.2" />
<text x="621.7" y="622.0" font-size="14.5" text-anchor="middle" >140</text>
<line x1="637.5" y1="603.8" x2="637.5" y2="606.3" stroke="#2a2a2a" stroke-width="1.2" />
<line x1="653.4" y1="603.8" x2="653.4" y2="607.8" stroke="#2a2a2a" stroke-width="1.2" />
<text x="653.4" y="622.0" font-size="14.5" text-anchor="middle" >160</text>
<text x="404.8" y="643.5" font-size="22" text-anchor="start" >Indentation depth, h (nm)</text>
<text transform="translate(362.5,494.2) rotate(-90)" font-size="22" text-anchor="middle">Load, P (µN)</text>
<line x1="406.6" y1="412.5" x2="439.5" y2="412.5" stroke="#1e1e1e" stroke-width="1.6" />
<text x="442.6" y="417.7" font-size="14.5" text-anchor="start" >1</text>
<line x1="406.6" y1="430.3" x2="439.5" y2="430.3" stroke="#4a88d8" stroke-width="1.6" />
<text x="442.6" y="435.5" font-size="14.5" text-anchor="start" >2</text>
<line x1="406.6" y1="448.1" x2="439.5" y2="448.1" stroke="#f5962c" stroke-width="1.6" />
<text x="442.6" y="453.3" font-size="14.5" text-anchor="start" >3</text>
<line x1="406.6" y1="465.9" x2="439.5" y2="465.9" stroke="#ec3c8e" stroke-width="1.6" />
<text x="442.6" y="471.1" font-size="14.5" text-anchor="start" >4</text>
<line x1="406.6" y1="483.7" x2="439.5" y2="483.7" stroke="#2e3896" stroke-width="2" />
<text x="442.6" y="488.9" font-size="14.5" text-anchor="start" >5</text>
<line x1="406.6" y1="501.5" x2="439.5" y2="501.5" stroke="#c4c4c4" stroke-width="1.6" />
<text x="442.6" y="506.7" font-size="14.5" text-anchor="start" >6</text>
<path d="M399.5,589.6 C402.8,588.8 412.9,586.8 419.5,584.7 C426.1,582.6 432.5,579.5 439.0,576.9 C445.5,574.3 452.1,572.0 458.6,569.1 C465.1,566.2 471.6,562.7 478.1,559.3 C484.6,555.9 491.1,552.8 497.6,548.6 C504.1,544.4 511.2,538.3 517.1,533.9 C523.0,529.5 526.9,527.5 533.1,522.0 C539.3,516.5 547.1,508.0 554.1,501.0 C561.1,494.0 569.1,486.3 575.1,480.0 C581.1,473.7 583.8,470.0 590.0,463.3 C596.2,456.6 606.6,446.0 612.6,440.0 C618.6,434.0 623.4,428.9 625.8,427.4 C628.2,425.9 626.9,427.6 626.8,431.0 C626.7,434.4 626.2,442.0 625.3,447.5 C624.4,453.0 623.0,459.8 621.6,464.0 C620.2,468.2 619.0,468.0 617.0,473.0 C615.0,478.0 612.2,487.6 609.5,494.1 C606.8,500.6 603.8,506.1 600.5,512.1 C597.2,518.1 594.2,523.8 590.0,530.0 C585.8,536.2 581.1,543.0 575.1,549.4 C569.1,555.8 561.1,563.4 554.1,568.3 C547.1,573.2 538.6,576.1 533.1,578.8 C527.6,581.5 526.3,583.1 521.0,584.7 C515.7,586.3 508.3,587.4 501.5,588.2 C494.7,589.0 497.0,589.4 480.0,589.6 C463.0,589.8 412.9,589.6 399.5,589.6" fill="none" stroke="#f5962c" stroke-width="1.5" stroke-linejoin="round" stroke-linecap="round" />
<path d="M399.5,589.6 C402.8,588.8 412.9,586.8 419.5,584.7 C426.1,582.6 432.5,579.5 439.0,576.9 C445.5,574.3 452.1,572.0 458.6,569.1 C465.1,566.2 471.6,562.7 478.1,559.3 C484.6,555.9 492.0,551.1 497.6,548.6 C503.2,546.1 506.1,546.8 512.0,544.1 C517.9,541.4 525.4,536.5 533.1,532.6 C540.8,528.8 554.4,522.4 558.3,521.0 C562.1,519.6 558.7,521.0 556.2,524.0 C553.8,527.0 549.2,532.9 543.6,538.9 C538.0,544.9 529.6,554.3 522.6,559.9 C515.6,565.5 508.5,569.0 501.5,572.5 C494.5,576.0 487.4,578.7 480.5,580.9 C473.6,583.1 468.4,584.2 460.0,585.5 C451.6,586.8 438.3,588.1 430.0,588.8 C421.7,589.5 415.1,589.5 410.0,589.6 C404.9,589.7 401.2,589.6 399.5,589.6" fill="none" stroke="#4a88d8" stroke-width="1.5" stroke-linejoin="round" stroke-linecap="round" />
<path d="M399.5,589.6 C402.8,588.8 412.9,586.8 419.5,584.7 C426.1,582.6 432.5,579.5 439.0,576.9 C445.5,574.3 452.1,572.0 458.6,569.1 C465.1,566.2 471.6,562.7 478.1,559.3 C484.6,555.9 492.0,550.6 497.6,548.6 C503.2,546.6 506.1,549.6 512.0,547.3 C517.9,545.0 526.1,539.6 533.1,534.7 C540.1,529.8 547.1,523.4 554.1,517.8 C561.1,512.2 569.1,506.4 575.1,501.0 C581.1,495.6 585.0,490.3 590.0,485.1 C595.0,479.9 600.0,475.8 605.0,470.0 C610.0,464.2 617.6,452.5 620.0,450.5 C622.4,448.5 620.0,454.2 619.5,458.0 C619.0,461.8 618.7,467.0 617.0,473.0 C615.3,479.0 612.2,487.6 609.5,494.1 C606.8,500.6 603.8,506.1 600.5,512.1 C597.2,518.1 594.2,523.8 590.0,530.0 C585.8,536.2 581.1,543.0 575.1,549.4 C569.1,555.8 561.1,563.4 554.1,568.3 C547.1,573.2 538.6,576.1 533.1,578.8 C527.6,581.5 526.3,583.1 521.0,584.7 C515.7,586.3 508.3,587.4 501.5,588.2 C494.7,589.0 497.0,589.4 480.0,589.6 C463.0,589.8 412.9,589.6 399.5,589.6" fill="none" stroke="#ec3c8e" stroke-width="1.5" stroke-linejoin="round" stroke-linecap="round" />
<path d="M399.5,589.6 C404.5,588.3 419.4,585.0 429.3,581.7 C439.2,578.4 448.9,574.2 458.6,570.0 C468.4,565.8 478.7,560.6 487.8,556.4 C496.9,552.2 509.5,546.1 513.2,544.7 C516.9,543.3 512.6,546.0 510.0,548.0 C507.4,550.0 502.3,553.0 497.6,556.4 C492.9,559.8 487.5,564.5 482.0,568.1 C476.5,571.7 469.9,574.9 464.4,577.8 C458.9,580.7 454.6,583.7 448.8,585.6 C443.0,587.5 435.8,588.5 429.3,589.2 C422.8,589.9 415.0,589.5 410.0,589.6 C405.0,589.7 401.2,589.6 399.5,589.6" fill="none" stroke="#2e3896" stroke-width="1.7" stroke-linejoin="round" stroke-linecap="round" />
<path d="M399.5,589.6 C402.8,588.3 412.9,585.0 419.5,581.7 C426.1,578.4 432.5,574.5 439.0,570.0 C445.5,565.5 452.1,559.9 458.6,554.4 C465.1,548.9 471.6,543.0 478.1,536.8 C484.6,530.6 491.8,523.1 497.6,517.3 C503.5,511.4 509.1,505.3 513.2,501.7 C517.3,498.1 520.6,495.9 522.0,495.5 C523.4,495.1 522.3,495.7 521.5,499.0 C520.7,502.3 519.1,509.1 517.1,515.4 C515.1,521.7 512.2,530.6 509.3,536.8 C506.4,543.0 503.5,547.6 499.6,552.5 C495.7,557.4 491.1,562.2 485.9,566.1 C480.7,570.0 474.5,573.1 468.3,575.9 C462.1,578.7 456.9,580.6 448.8,582.7 C440.7,584.8 427.7,587.5 419.5,588.6 C411.3,589.8 402.8,589.4 399.5,589.6" fill="none" stroke="#c4c4c4" stroke-width="1.6" stroke-linejoin="round" stroke-linecap="round" />
<path d="M399.5,589.6 C402.8,588.8 412.9,586.8 419.5,584.7 C426.1,582.6 432.5,579.5 439.0,576.9 C445.5,574.3 452.1,572.0 458.6,569.1 C465.1,566.2 471.6,562.7 478.1,559.3 C484.6,555.9 491.1,552.6 497.6,548.6 C504.1,544.6 511.2,539.0 517.1,535.0 C523.0,531.0 526.9,528.8 533.1,524.5 C539.3,520.2 547.1,514.7 554.1,509.4 C561.1,504.1 568.9,497.8 575.0,492.6 C581.1,487.4 588.5,479.1 590.8,478.3 C593.1,477.5 589.7,484.2 589.0,488.0 C588.3,491.8 587.4,497.1 586.5,501.0 C585.6,504.9 585.4,505.9 583.5,511.5 C581.6,517.1 578.6,527.7 575.1,534.7 C571.6,541.7 566.7,548.0 562.5,553.6 C558.3,559.2 554.1,564.4 549.9,568.3 C545.6,572.2 540.6,574.5 537.0,577.0 C533.4,579.5 530.8,581.6 528.0,583.5 C525.2,585.4 522.7,587.5 520.5,588.5 C518.3,589.5 523.4,589.4 515.0,589.6 C506.6,589.8 489.2,589.6 470.0,589.6 C450.8,589.6 411.2,589.6 399.5,589.6" fill="none" stroke="#1e1e1e" stroke-width="1.6" stroke-linejoin="round" stroke-linecap="round" />
<rect x="67.5" y="661.2" width="254.0" height="215.0999999999999" fill="none" stroke="#2a2a2a" stroke-width="1.4"/>
<line x1="63.0" y1="876.3" x2="67.5" y2="876.3" stroke="#2a2a2a" stroke-width="1.3" />
<text x="60.7" y="880.9" font-size="19.5" text-anchor="end" >0</text>
<line x1="65.0" y1="863.2" x2="67.5" y2="863.2" stroke="#2a2a2a" stroke-width="1.3" />
<line x1="63.0" y1="850.2" x2="67.5" y2="850.2" stroke="#2a2a2a" stroke-width="1.3" />
<text x="60.7" y="855.8" font-size="19.5" text-anchor="end" >1</text>
<line x1="65.0" y1="837.1" x2="67.5" y2="837.1" stroke="#2a2a2a" stroke-width="1.3" />
<line x1="63.0" y1="824.1" x2="67.5" y2="824.1" stroke="#2a2a2a" stroke-width="1.3" />
<text x="60.7" y="830.6" font-size="19.5" text-anchor="end" >2</text>
<line x1="65.0" y1="811.0" x2="67.5" y2="811.0" stroke="#2a2a2a" stroke-width="1.3" />
<line x1="63.0" y1="798.0" x2="67.5" y2="798.0" stroke="#2a2a2a" stroke-width="1.3" />
<text x="60.7" y="805.5" font-size="19.5" text-anchor="end" >3</text>
<line x1="65.0" y1="784.9" x2="67.5" y2="784.9" stroke="#2a2a2a" stroke-width="1.3" />
<line x1="63.0" y1="771.9" x2="67.5" y2="771.9" stroke="#2a2a2a" stroke-width="1.3" />
<text x="60.7" y="780.3" font-size="19.5" text-anchor="end" >4</text>
<line x1="65.0" y1="758.8" x2="67.5" y2="758.8" stroke="#2a2a2a" stroke-width="1.3" />
<line x1="63.0" y1="745.8" x2="67.5" y2="745.8" stroke="#2a2a2a" stroke-width="1.3" />
<text x="60.7" y="755.1" font-size="19.5" text-anchor="end" >5</text>
<line x1="65.0" y1="732.8" x2="67.5" y2="732.8" stroke="#2a2a2a" stroke-width="1.3" />
<line x1="63.0" y1="719.7" x2="67.5" y2="719.7" stroke="#2a2a2a" stroke-width="1.3" />
<text x="60.7" y="730.0" font-size="19.5" text-anchor="end" >6</text>
<line x1="65.0" y1="706.6" x2="67.5" y2="706.6" stroke="#2a2a2a" stroke-width="1.3" />
<line x1="63.0" y1="693.6" x2="67.5" y2="693.6" stroke="#2a2a2a" stroke-width="1.3" />
<text x="60.7" y="704.9" font-size="19.5" text-anchor="end" >7</text>
<line x1="65.0" y1="680.5" x2="67.5" y2="680.5" stroke="#2a2a2a" stroke-width="1.3" />
<line x1="63.0" y1="667.5" x2="67.5" y2="667.5" stroke="#2a2a2a" stroke-width="1.3" />
<text x="60.7" y="679.7" font-size="19.5" text-anchor="end" >8</text>
<line x1="82.3" y1="876.3" x2="82.3" y2="880.8" stroke="#2a2a2a" stroke-width="1.3" />
<line x1="98.5" y1="876.3" x2="98.5" y2="878.8" stroke="#2a2a2a" stroke-width="1.3" />
<line x1="114.6" y1="876.3" x2="114.6" y2="880.8" stroke="#2a2a2a" stroke-width="1.3" />
<line x1="130.8" y1="876.3" x2="130.8" y2="878.8" stroke="#2a2a2a" stroke-width="1.3" />
<line x1="146.9" y1="876.3" x2="146.9" y2="880.8" stroke="#2a2a2a" stroke-width="1.3" />
<line x1="163.1" y1="876.3" x2="163.1" y2="878.8" stroke="#2a2a2a" stroke-width="1.3" />
<line x1="179.2" y1="876.3" x2="179.2" y2="880.8" stroke="#2a2a2a" stroke-width="1.3" />
<line x1="195.3" y1="876.3" x2="195.3" y2="878.8" stroke="#2a2a2a" stroke-width="1.3" />
<line x1="211.5" y1="876.3" x2="211.5" y2="880.8" stroke="#2a2a2a" stroke-width="1.3" />
<line x1="227.7" y1="876.3" x2="227.7" y2="878.8" stroke="#2a2a2a" stroke-width="1.3" />
<line x1="243.8" y1="876.3" x2="243.8" y2="880.8" stroke="#2a2a2a" stroke-width="1.3" />
<line x1="259.9" y1="876.3" x2="259.9" y2="878.8" stroke="#2a2a2a" stroke-width="1.3" />
<line x1="276.1" y1="876.3" x2="276.1" y2="880.8" stroke="#2a2a2a" stroke-width="1.3" />
<line x1="292.2" y1="876.3" x2="292.2" y2="878.8" stroke="#2a2a2a" stroke-width="1.3" />
<line x1="308.4" y1="876.3" x2="308.4" y2="880.8" stroke="#2a2a2a" stroke-width="1.3" />
<text x="73.3" y="898.3" font-size="18.3" text-anchor="start" xml:space="preserve">40 60 80 100 120 140 160 180</text>
<text x="66.0" y="924.0" font-size="23" text-anchor="start" >Indentation depth, h (nm)</text>
<text transform="translate(32,789.2) rotate(-90)" font-size="22.8" text-anchor="middle">Young’s modulus, E (GPa)</text>
<line x1="69.5" y1="822.0" x2="320.5" y2="822.0" stroke="#333" stroke-width="2" stroke-dasharray="2 2.6"/>
<line x1="69.5" y1="842.7" x2="320.5" y2="842.7" stroke="#333" stroke-width="2" stroke-dasharray="2 2.6"/>
<line x1="118.1" y1="679.8" x2="138.5" y2="679.8" stroke="#333" stroke-width="2" stroke-dasharray="2 2.6"/>
<rect x="125.9" y="692.9" width="5.4" height="5.4" fill="#111"/>
<text x="143.6" y="685.1" font-size="18.3" text-anchor="start" >ZIF-71 monoliths</text>
<text x="143.6" y="700.9" font-size="18.3" text-anchor="start" >ZIF-71 single crystal</text>
<rect x="94.3" y="688.3" width="4.6" height="4.6" fill="#111"/>
<rect x="125.1" y="797.2" width="4.6" height="4.6" fill="#111"/>
<rect x="141.9" y="795.6" width="4.6" height="4.6" fill="#111"/>
<rect x="133.1" y="838.2" width="4.6" height="4.6" fill="#111"/>
<rect x="177.8" y="841.2" width="4.6" height="4.6" fill="#111"/>
<rect x="178.5" y="851.3" width="4.6" height="4.6" fill="#111"/>
<rect x="179.3" y="810.3" width="4.6" height="4.6" fill="#111"/>
<rect x="211.4" y="819.4" width="4.6" height="4.6" fill="#111"/>
<rect x="216.3" y="833.8" width="4.6" height="4.6" fill="#111"/>
<rect x="223.5" y="847.1" width="4.6" height="4.6" fill="#111"/>
<rect x="240.0" y="823.9" width="4.6" height="4.6" fill="#111"/>
<rect x="246.1" y="814.9" width="4.6" height="4.6" fill="#111"/>
<rect x="289.1" y="846.5" width="4.6" height="4.6" fill="#111"/>
<rect x="292.7" y="851.0" width="4.6" height="4.6" fill="#111"/>
<rect x="400.3" y="661.3" width="252.90000000000003" height="214.9000000000001" fill="none" stroke="#2a2a2a" stroke-width="1.4"/>
<line x1="396.1" y1="876.2" x2="400.3" y2="876.2" stroke="#2a2a2a" stroke-width="1.3" />
<text x="395.8" y="881.8" font-size="19" text-anchor="end" >0</text>
<line x1="397.9" y1="864.7" x2="400.3" y2="864.7" stroke="#2a2a2a" stroke-width="1.3" />
<line x1="396.1" y1="853.1" x2="400.3" y2="853.1" stroke="#2a2a2a" stroke-width="1.3" />
<line x1="397.9" y1="841.6" x2="400.3" y2="841.6" stroke="#2a2a2a" stroke-width="1.3" />
<line x1="396.1" y1="830.1" x2="400.3" y2="830.1" stroke="#2a2a2a" stroke-width="1.3" />
<text x="395.8" y="836.9" font-size="19" text-anchor="end" >200</text>
<line x1="397.9" y1="818.6" x2="400.3" y2="818.6" stroke="#2a2a2a" stroke-width="1.3" />
<line x1="396.1" y1="807.0" x2="400.3" y2="807.0" stroke="#2a2a2a" stroke-width="1.3" />
<line x1="397.9" y1="795.5" x2="400.3" y2="795.5" stroke="#2a2a2a" stroke-width="1.3" />
<line x1="396.1" y1="784.0" x2="400.3" y2="784.0" stroke="#2a2a2a" stroke-width="1.3" />
<text x="395.8" y="792.0" font-size="19" text-anchor="end" >400</text>
<line x1="397.9" y1="772.4" x2="400.3" y2="772.4" stroke="#2a2a2a" stroke-width="1.3" />
<line x1="396.1" y1="760.9" x2="400.3" y2="760.9" stroke="#2a2a2a" stroke-width="1.3" />
<line x1="397.9" y1="749.4" x2="400.3" y2="749.4" stroke="#2a2a2a" stroke-width="1.3" />
<line x1="396.1" y1="737.8" x2="400.3" y2="737.8" stroke="#2a2a2a" stroke-width="1.3" />
<text x="395.8" y="747.1" font-size="19" text-anchor="end" >600</text>
<line x1="397.9" y1="726.3" x2="400.3" y2="726.3" stroke="#2a2a2a" stroke-width="1.3" />
<line x1="396.1" y1="714.8" x2="400.3" y2="714.8" stroke="#2a2a2a" stroke-width="1.3" />
<line x1="397.9" y1="703.2" x2="400.3" y2="703.2" stroke="#2a2a2a" stroke-width="1.3" />
<line x1="396.1" y1="691.7" x2="400.3" y2="691.7" stroke="#2a2a2a" stroke-width="1.3" />
<text x="395.8" y="702.2" font-size="19" text-anchor="end" >800</text>
<line x1="397.9" y1="680.2" x2="400.3" y2="680.2" stroke="#2a2a2a" stroke-width="1.3" />
<line x1="396.1" y1="668.7" x2="400.3" y2="668.7" stroke="#2a2a2a" stroke-width="1.3" />
<line x1="415.6" y1="876.2" x2="415.6" y2="880.7" stroke="#2a2a2a" stroke-width="1.3" />
<line x1="431.7" y1="876.2" x2="431.7" y2="878.7" stroke="#2a2a2a" stroke-width="1.3" />
<line x1="447.9" y1="876.2" x2="447.9" y2="880.7" stroke="#2a2a2a" stroke-width="1.3" />
<line x1="464.0" y1="876.2" x2="464.0" y2="878.7" stroke="#2a2a2a" stroke-width="1.3" />
<line x1="480.2" y1="876.2" x2="480.2" y2="880.7" stroke="#2a2a2a" stroke-width="1.3" />
<line x1="496.3" y1="876.2" x2="496.3" y2="878.7" stroke="#2a2a2a" stroke-width="1.3" />
<line x1="512.5" y1="876.2" x2="512.5" y2="880.7" stroke="#2a2a2a" stroke-width="1.3" />
<line x1="528.6" y1="876.2" x2="528.6" y2="878.7" stroke="#2a2a2a" stroke-width="1.3" />
<line x1="544.8" y1="876.2" x2="544.8" y2="880.7" stroke="#2a2a2a" stroke-width="1.3" />
<line x1="560.9" y1="876.2" x2="560.9" y2="878.7" stroke="#2a2a2a" stroke-width="1.3" />
<line x1="577.1" y1="876.2" x2="577.1" y2="880.7" stroke="#2a2a2a" stroke-width="1.3" />
<line x1="593.2" y1="876.2" x2="593.2" y2="878.7" stroke="#2a2a2a" stroke-width="1.3" />
<line x1="609.4" y1="876.2" x2="609.4" y2="880.7" stroke="#2a2a2a" stroke-width="1.3" />
<line x1="625.5" y1="876.2" x2="625.5" y2="878.7" stroke="#2a2a2a" stroke-width="1.3" />
<line x1="641.7" y1="876.2" x2="641.7" y2="880.7" stroke="#2a2a2a" stroke-width="1.3" />
<text x="405.0" y="898.3" font-size="18.6" text-anchor="start" xml:space="preserve">40 60 80 100 120 140 160 180</text>
<text x="400.3" y="921.0" font-size="22.8" text-anchor="start" >Indentation depth, h (nm)</text>
<text transform="translate(348.5,771) rotate(-90)" font-size="22.9" text-anchor="middle">Hardness, H (MPa)</text>
<line x1="402.3" y1="813.0" x2="652.2" y2="813.0" stroke="#333" stroke-width="2" stroke-dasharray="2 2.6"/>
<line x1="402.3" y1="835.8" x2="652.2" y2="835.8" stroke="#333" stroke-width="2" stroke-dasharray="2 2.6"/>
<line x1="451.5" y1="675.8" x2="471.5" y2="675.8" stroke="#333" stroke-width="2" stroke-dasharray="2 2.6"/>
<rect x="459.7" y="689.3" width="5.4" height="5.4" fill="#111"/>
<text x="476.0" y="681.7" font-size="18.3" text-anchor="start" >ZIF-71 monoliths</text>
<text x="476.0" y="698.3" font-size="18.3" text-anchor="start" >ZIF-71 single crystal</text>
<rect x="427.8" y="682.5" width="4.6" height="4.6" fill="#111"/>
<rect x="475.1" y="772.4" width="4.6" height="4.6" fill="#111"/>
<rect x="458.7" y="808.1" width="4.6" height="4.6" fill="#111"/>
<rect x="466.0" y="817.6" width="4.6" height="4.6" fill="#111"/>
<rect x="512.3" y="814.0" width="4.6" height="4.6" fill="#111"/>
<rect x="511.2" y="828.7" width="4.6" height="4.6" fill="#111"/>
<rect x="511.8" y="844.9" width="4.6" height="4.6" fill="#111"/>
<rect x="544.5" y="823.8" width="4.6" height="4.6" fill="#111"/>
<rect x="549.9" y="828.9" width="4.6" height="4.6" fill="#111"/>
<rect x="557.5" y="846.9" width="4.6" height="4.6" fill="#111"/>
<rect x="573.1" y="826.2" width="4.6" height="4.6" fill="#111"/>
<rect x="579.1" y="820.8" width="4.6" height="4.6" fill="#111"/>
<rect x="622.8" y="847.8" width="4.6" height="4.6" fill="#111"/>
<rect x="626.1" y="853.3" width="4.6" height="4.6" fill="#111"/>
</g></svg></body></html>
